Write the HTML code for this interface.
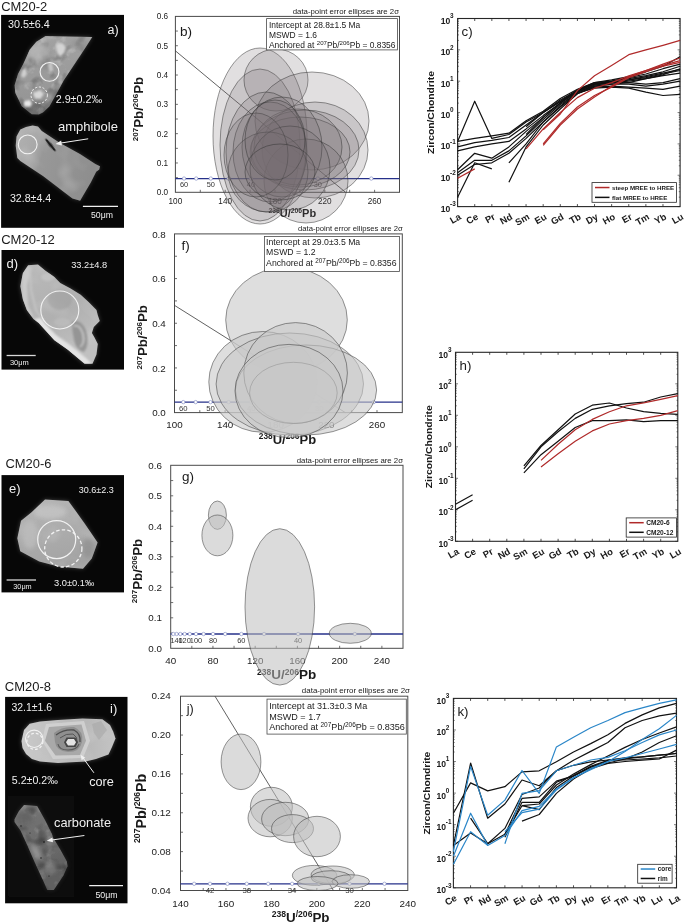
<!DOCTYPE html><html><head><meta charset="utf-8"><style>html,body{margin:0;padding:0;background:#fff;width:685px;height:924px;overflow:hidden}svg{display:block;will-change:transform;filter:blur(0.35px)}</style></head><body>
<svg width="685" height="924" viewBox="0 0 685 924" font-family="Liberation Sans, sans-serif">
<defs>
<filter id="soft" x="-10%" y="-10%" width="120%" height="120%"><feGaussianBlur stdDeviation="0.7"/></filter>
<filter id="soft2" x="-20%" y="-20%" width="140%" height="140%"><feGaussianBlur stdDeviation="1.1"/></filter>
<filter id="blur2" x="-30%" y="-30%" width="160%" height="160%"><feGaussianBlur stdDeviation="2.2"/></filter>
<filter id="blur4" x="-50%" y="-50%" width="200%" height="200%"><feGaussianBlur stdDeviation="4"/></filter>
<filter id="tex" x="0" y="0" width="100%" height="100%">
 <feTurbulence type="fractalNoise" baseFrequency="0.09" numOctaves="2" seed="7" result="n"/>
 <feColorMatrix in="n" type="matrix" values="0 0 0 0 1  0 0 0 0 1  0 0 0 0 1  1.2 0 0 0 -0.55" result="w"/>
 <feComposite in="w" in2="SourceGraphic" operator="in"/>
</filter>
<filter id="nz1" x="0" y="0" width="100%" height="100%">
 <feTurbulence type="fractalNoise" baseFrequency="0.11" numOctaves="3" seed="11" result="n"/>
 <feColorMatrix in="n" type="matrix" values="0 0 0 0 1  0 0 0 0 1  0 0 0 0 1  2.6 0 0 0 -1.35"/>
 <feGaussianBlur stdDeviation="0.5"/>
</filter>
<filter id="nz2" x="0" y="0" width="100%" height="100%">
 <feTurbulence type="fractalNoise" baseFrequency="0.08" numOctaves="2" seed="4" result="n"/>
 <feColorMatrix in="n" type="matrix" values="0 0 0 0 0  0 0 0 0 0  0 0 0 0 0  0 2.2 0 0 -1.1"/>
 <feGaussianBlur stdDeviation="0.6"/>
</filter>
<filter id="nz3" x="0" y="0" width="100%" height="100%">
 <feTurbulence type="fractalNoise" baseFrequency="0.05" numOctaves="2" seed="21" result="n"/>
 <feColorMatrix in="n" type="matrix" values="0 0 0 0 1  0 0 0 0 1  0 0 0 0 1  0 0 1.8 0 -0.85"/>
 <feGaussianBlur stdDeviation="1.2"/>
</filter>
</defs>
<rect width="685" height="924" fill="#fff"/>
<text x="1.20" y="10.70" font-size="13.4" text-anchor="start" fill="#1a1a1a" font-weight="normal"  textLength="46" lengthAdjust="spacingAndGlyphs">CM20-2</text>
<text x="1.20" y="244.00" font-size="13.4" text-anchor="start" fill="#1a1a1a" font-weight="normal"  textLength="53.6" lengthAdjust="spacingAndGlyphs">CM20-12</text>
<text x="5.40" y="468.00" font-size="13.2" text-anchor="start" fill="#1a1a1a" font-weight="normal"  textLength="46" lengthAdjust="spacingAndGlyphs">CM20-6</text>
<text x="4.80" y="691.20" font-size="13.4" text-anchor="start" fill="#1a1a1a" font-weight="normal"  textLength="46.2" lengthAdjust="spacingAndGlyphs">CM20-8</text>
<rect x="1.1" y="14.9" width="122.9" height="212.9" fill="#070707"/>
<rect x="1.5" y="250" width="122.5" height="119.6" fill="#070707"/>
<rect x="1.5" y="475.1" width="122.5" height="117.3" fill="#070707"/>
<rect x="5.1" y="696.9" width="122.4" height="206.4" fill="#070707"/>
<linearGradient id="ga1" x1="0" y1="0" x2="0" y2="1"><stop offset="0" stop-color="#a2a2a2"/><stop offset="0.8" stop-color="#969696"/><stop offset="0.87" stop-color="#777"/><stop offset="1" stop-color="#6e6e6e"/></linearGradient>
<clipPath id="ca1"><polygon points="45.5,36.0 92.3,37.0 80.0,56.0 64.0,80.0 49.4,106.5 43.0,112.5 38.9,114.6 31.7,114.2 21.8,106.2 15.3,93.1 14.6,85.2 18.0,74.0 23.1,64.2 29.7,49.7 36.3,41.8"/></clipPath>
<polygon points="45.5,36.0 92.3,37.0 80.0,56.0 64.0,80.0 49.4,106.5 43.0,112.5 38.9,114.6 31.7,114.2 21.8,106.2 15.3,93.1 14.6,85.2 18.0,74.0 23.1,64.2 29.7,49.7 36.3,41.8" fill="url(#ga1)" opacity="0.35" filter="url(#blur2)"/>
<polygon points="45.5,36.0 92.3,37.0 80.0,56.0 64.0,80.0 49.4,106.5 43.0,112.5 38.9,114.6 31.7,114.2 21.8,106.2 15.3,93.1 14.6,85.2 18.0,74.0 23.1,64.2 29.7,49.7 36.3,41.8" fill="url(#ga1)" filter="url(#soft)"/>
<rect x="12.6" y="34.0" width="81.7" height="82.6" filter="url(#nz1)" clip-path="url(#ca1)" opacity="0.28"/>
<rect x="12.6" y="34.0" width="81.7" height="82.6" filter="url(#nz2)" clip-path="url(#ca1)" opacity="0.35"/>
<g clip-path="url(#ca1)"><g filter="url(#blur2)" opacity="0.8"><ellipse cx="38" cy="52" rx="10" ry="9" fill="#b8b8b8"/><ellipse cx="45" cy="62" rx="3" ry="7" fill="#6e6e6e" opacity="0.7"/><ellipse cx="80" cy="44" rx="8" ry="5" fill="#8a8a8a" opacity="0.6"/></g><g filter="url(#soft2)"><polygon points="56,44 62,43 66,47 64,53 60,57 57,52" fill="#d4d4d4"/><polygon points="22,70 26,68 27,74 24,78 21,76" fill="#d0d0d0"/><polygon points="24,101 30,100 32,104 30,107 24,106" fill="#e8e8e8"/><polygon points="33,93 40,90 44,94 40,99 35,98" fill="#d8d8d8"/><polygon points="48,64 52,62 53,70 50,73" fill="#c8c8c8"/></g></g>
<circle cx="49.5" cy="71.9" r="9.4" fill="none" stroke="#f2f2f2" stroke-width="1.1"/>
<circle cx="39.2" cy="95.2" r="8.2" fill="none" stroke="#f2f2f2" stroke-width="1" stroke-dasharray="2.2 1.6"/>
<text x="7.90" y="28.20" font-size="10.2" text-anchor="start" fill="#f0f0f0" font-weight="normal"  textLength="41.9" lengthAdjust="spacingAndGlyphs">30.5±6.4</text>
<text x="107.50" y="33.70" font-size="12.5" text-anchor="start" fill="#f0f0f0" font-weight="normal" >a)</text>
<text x="55.70" y="103.40" font-size="10.4" text-anchor="start" fill="#f0f0f0" font-weight="normal"  textLength="46.5" lengthAdjust="spacingAndGlyphs">2.9±0.2‰</text>
<linearGradient id="ga2" x1="0" y1="0" x2="1" y2="0.3"><stop offset="0" stop-color="#b2b2b2"/><stop offset="0.3" stop-color="#a8a8a8"/><stop offset="0.4" stop-color="#989898"/><stop offset="1" stop-color="#8e8e8e"/></linearGradient>
<clipPath id="ca2"><polygon points="16.5,136.5 20.3,129.6 26.0,127.0 32.6,125.4 38.0,126.5 41.8,131.1 60.0,143.0 80.0,154.0 95.4,164.0 100.0,166.3 99.3,169.4 96.2,171.7 90.8,182.4 80.1,200.8 72.4,198.5 43.3,176.3 20.3,161.0 17.3,157.9 15.7,145.7"/></clipPath>
<polygon points="16.5,136.5 20.3,129.6 26.0,127.0 32.6,125.4 38.0,126.5 41.8,131.1 60.0,143.0 80.0,154.0 95.4,164.0 100.0,166.3 99.3,169.4 96.2,171.7 90.8,182.4 80.1,200.8 72.4,198.5 43.3,176.3 20.3,161.0 17.3,157.9 15.7,145.7" fill="url(#ga2)" opacity="0.35" filter="url(#blur2)"/>
<polygon points="16.5,136.5 20.3,129.6 26.0,127.0 32.6,125.4 38.0,126.5 41.8,131.1 60.0,143.0 80.0,154.0 95.4,164.0 100.0,166.3 99.3,169.4 96.2,171.7 90.8,182.4 80.1,200.8 72.4,198.5 43.3,176.3 20.3,161.0 17.3,157.9 15.7,145.7" fill="url(#ga2)" filter="url(#soft)"/>
<rect x="13.7" y="123.4" width="88.3" height="79.4" filter="url(#nz3)" clip-path="url(#ca2)" opacity="0.25"/>
<ellipse cx="50.5" cy="145" rx="8.2" ry="1.4" transform="rotate(50.7 50.5 145)" fill="#1a1a1a" filter="url(#soft)"/>
<circle cx="27.7" cy="144.4" r="9.4" fill="none" stroke="#f2f2f2" stroke-width="1.1"/>
<text x="57.90" y="131.30" font-size="12.8" text-anchor="start" fill="#f0f0f0" font-weight="normal"  textLength="60.1" lengthAdjust="spacingAndGlyphs">amphibole</text>
<line x1="88.2" y1="138.8" x2="58.5" y2="143.4" stroke="#f0f0f0" stroke-width="1"/><polygon points="55.5,143.9 61.2,140.6 61.9,145.4" fill="#f0f0f0"/>
<text x="9.90" y="202.00" font-size="10.2" text-anchor="start" fill="#f0f0f0" font-weight="normal"  textLength="41.3" lengthAdjust="spacingAndGlyphs">32.8±4.4</text>
<line x1="82.9" y1="206.4" x2="118" y2="206.4" stroke="#f0f0f0" stroke-width="1.3"/>
<text x="91.00" y="218.20" font-size="8.7" text-anchor="start" fill="#f0f0f0" font-weight="normal"  textLength="21.9" lengthAdjust="spacingAndGlyphs">50μm</text>
<linearGradient id="gd" x1="0" y1="0" x2="0.4" y2="1"><stop offset="0" stop-color="#bababa"/><stop offset="0.6" stop-color="#b0b0b0"/><stop offset="1" stop-color="#c0c0c0"/></linearGradient>
<clipPath id="cd"><polygon points="28.1,265.3 38.0,264.6 45.2,270.5 54.4,277.1 60.3,283.0 70.2,288.3 80.7,294.8 88.6,302.0 96.5,310.0 97.8,315.2 99.8,321.1 93.8,327.0 91.9,333.0 94.5,337.5 97.8,344.1 96.5,354.6 92.5,363.8 84.6,363.8 67.6,349.4 54.4,340.2 38.7,323.1 33.4,319.1 26.8,310.0 22.9,299.4 20.3,286.3 22.9,273.1"/></clipPath>
<polygon points="28.1,265.3 38.0,264.6 45.2,270.5 54.4,277.1 60.3,283.0 70.2,288.3 80.7,294.8 88.6,302.0 96.5,310.0 97.8,315.2 99.8,321.1 93.8,327.0 91.9,333.0 94.5,337.5 97.8,344.1 96.5,354.6 92.5,363.8 84.6,363.8 67.6,349.4 54.4,340.2 38.7,323.1 33.4,319.1 26.8,310.0 22.9,299.4 20.3,286.3 22.9,273.1" fill="url(#gd)" opacity="0.35" filter="url(#blur2)"/>
<polygon points="28.1,265.3 38.0,264.6 45.2,270.5 54.4,277.1 60.3,283.0 70.2,288.3 80.7,294.8 88.6,302.0 96.5,310.0 97.8,315.2 99.8,321.1 93.8,327.0 91.9,333.0 94.5,337.5 97.8,344.1 96.5,354.6 92.5,363.8 84.6,363.8 67.6,349.4 54.4,340.2 38.7,323.1 33.4,319.1 26.8,310.0 22.9,299.4 20.3,286.3 22.9,273.1" fill="url(#gd)" filter="url(#soft)"/>
<rect x="18.3" y="262.6" width="83.5" height="103.2" filter="url(#nz3)" clip-path="url(#cd)" opacity="0.2"/>
<g clip-path="url(#cd)"><g filter="url(#soft2)"><polygon points="22,275 28,266 32,268 27,285 28,305 34,318 28,314 22,300" fill="#cfcfcf" opacity="0.8"/><polyline points="30,268 31,290 36,310 44,322" fill="none" stroke="#c4c4c4" stroke-width="2"/><polygon points="34,319 40,318 56,335 70,345 86,358 92,364 84,364 66,350 52,340 38,324" fill="#e4e4e4"/><path d="M72,322 Q80,318 86,330 Q90,345 84,352 Q76,350 74,340 Q72,330 72,322Z" fill="#8c8c8c" opacity="0.8"/><path d="M74,326 Q80,324 83,334 Q85,344 80,347" fill="none" stroke="#d0d0d0" stroke-width="1.4"/><ellipse cx="48" cy="277" rx="7" ry="4" fill="#c8c8c8" opacity="0.7"/><ellipse cx="62" cy="322" rx="8" ry="4" fill="#c0c0c0" opacity="0.6"/><ellipse cx="60" cy="300" rx="12" ry="10" fill="#9c9c9c" opacity="0.5"/></g></g>
<circle cx="59.8" cy="310" r="19" fill="none" stroke="#f2f2f2" stroke-width="1.1"/>
<text x="6.60" y="268.30" font-size="13" text-anchor="start" fill="#f0f0f0" font-weight="normal" >d)</text>
<text x="71.20" y="268.30" font-size="9.3" text-anchor="start" fill="#f0f0f0" font-weight="normal"  textLength="36" lengthAdjust="spacingAndGlyphs">33.2±4.8</text>
<line x1="6.6" y1="355.5" x2="35.7" y2="355.5" stroke="#d8d8d8" stroke-width="1.3"/>
<text x="9.90" y="365.00" font-size="7.5" text-anchor="start" fill="#f0f0f0" font-weight="normal"  textLength="18.9" lengthAdjust="spacingAndGlyphs">30μm</text>
<linearGradient id="ge" x1="0" y1="0" x2="0.3" y2="1"><stop offset="0" stop-color="#b6b6b6"/><stop offset="0.5" stop-color="#adadad"/><stop offset="1" stop-color="#a4a4a4"/></linearGradient>
<clipPath id="ce"><polygon points="45.0,499.5 68.4,501.0 75.0,510.0 85.0,524.0 97.6,542.6 91.8,558.6 83.0,568.8 58.2,566.6 39.2,561.5 20.2,551.3 17.3,538.2 21.0,520.7 31.9,511.9"/></clipPath>
<polygon points="45.0,499.5 68.4,501.0 75.0,510.0 85.0,524.0 97.6,542.6 91.8,558.6 83.0,568.8 58.2,566.6 39.2,561.5 20.2,551.3 17.3,538.2 21.0,520.7 31.9,511.9" fill="url(#ge)" opacity="0.35" filter="url(#blur2)"/>
<polygon points="45.0,499.5 68.4,501.0 75.0,510.0 85.0,524.0 97.6,542.6 91.8,558.6 83.0,568.8 58.2,566.6 39.2,561.5 20.2,551.3 17.3,538.2 21.0,520.7 31.9,511.9" fill="url(#ge)" filter="url(#soft)"/>
<rect x="15.3" y="497.5" width="84.3" height="73.3" filter="url(#nz3)" clip-path="url(#ce)" opacity="0.2"/>
<g clip-path="url(#ce)"><g filter="url(#blur2)" opacity="0.7"><ellipse cx="50" cy="512" rx="16" ry="7" fill="#c8c8c8"/><ellipse cx="30" cy="535" rx="8" ry="14" fill="#bfbfbf"/><ellipse cx="88" cy="548" rx="6" ry="10" fill="#8e8e8e"/><ellipse cx="75" cy="563" rx="10" ry="4" fill="#a0a0a0"/></g></g>
<circle cx="56.7" cy="539.6" r="19" fill="none" stroke="#f2f2f2" stroke-width="1.2"/>
<circle cx="63.3" cy="548.4" r="18.6" fill="none" stroke="#f2f2f2" stroke-width="1.3" stroke-dasharray="3.5 2.2"/>
<text x="9.10" y="493.10" font-size="13" text-anchor="start" fill="#f0f0f0" font-weight="normal" >e)</text>
<text x="78.70" y="493.10" font-size="9" text-anchor="start" fill="#f0f0f0" font-weight="normal"  textLength="35.1" lengthAdjust="spacingAndGlyphs">30.6±2.3</text>
<text x="54.00" y="586.00" font-size="9.3" text-anchor="start" fill="#f0f0f0" font-weight="normal"  textLength="40.3" lengthAdjust="spacingAndGlyphs">3.0±0.1‰</text>
<line x1="6.6" y1="580" x2="36" y2="580" stroke="#d8d8d8" stroke-width="1.3"/>
<text x="13.30" y="589.00" font-size="7.3" text-anchor="start" fill="#f0f0f0" font-weight="normal"  textLength="18.4" lengthAdjust="spacingAndGlyphs">30μm</text>
<linearGradient id="gi" x1="0" y1="0" x2="1" y2="0"><stop offset="0" stop-color="#cacaca"/><stop offset="0.3" stop-color="#c0c0c0"/><stop offset="0.7" stop-color="#b8b8b8"/><stop offset="1" stop-color="#c4c4c4"/></linearGradient>
<clipPath id="ci"><polygon points="21.5,741.0 24.0,730.0 29.6,723.8 40.0,721.5 57.9,720.0 82.5,718.4 102.4,719.2 110.0,725.0 113.2,731.5 115.5,738.4 112.0,747.0 108.5,754.5 96.0,759.0 85.6,761.4 57.9,762.9 40.0,761.5 31.9,759.1 26.0,754.0 22.5,748.0"/></clipPath>
<polygon points="21.5,741.0 24.0,730.0 29.6,723.8 40.0,721.5 57.9,720.0 82.5,718.4 102.4,719.2 110.0,725.0 113.2,731.5 115.5,738.4 112.0,747.0 108.5,754.5 96.0,759.0 85.6,761.4 57.9,762.9 40.0,761.5 31.9,759.1 26.0,754.0 22.5,748.0" fill="url(#gi)" opacity="0.35" filter="url(#blur2)"/>
<polygon points="21.5,741.0 24.0,730.0 29.6,723.8 40.0,721.5 57.9,720.0 82.5,718.4 102.4,719.2 110.0,725.0 113.2,731.5 115.5,738.4 112.0,747.0 108.5,754.5 96.0,759.0 85.6,761.4 57.9,762.9 40.0,761.5 31.9,759.1 26.0,754.0 22.5,748.0" fill="url(#gi)" filter="url(#soft)"/>
<rect x="19.5" y="716.4" width="98.0" height="48.5" filter="url(#nz3)" clip-path="url(#ci)" opacity="0.2"/>
<g clip-path="url(#ci)"><g filter="url(#soft)"><polygon points="46,724 84,721 90,740.7 83,758 53,759 42,740.7" fill="#d2d2d2" opacity="0.9"/><polygon points="49,727 81.5,724.5 86,740.7 80,755 55.5,755.5 45,740.7" fill="#a9a9a9"/><path d="M54,733 Q62,726 74,727 Q84,731 82,742 Q80,752 68,752 Q56,751 55,742Z" fill="#8f8f8f"/><path d="M56,735 Q64,729 74,730 Q81,734 80,742" fill="none" stroke="#4e4e4e" stroke-width="1.3"/><path d="M58,744 Q59,750 68,750 Q77,750 79,744" fill="none" stroke="#5a5a5a" stroke-width="1.1"/><path d="M60,738 Q66,733 73,734 Q78,737 77,742" fill="none" stroke="#555" stroke-width="1"/><polygon points="66.5,737.5 75.5,737.5 78,742.2 75.5,747 66.5,747 64,742.2" fill="#444"/><polygon points="68,739 74,739 76,742.2 74,745.5 68,745.5 66,742.2" fill="#e4e4e4"/><polygon points="92,724 101,721 107,730 99,740 94,733" fill="#a4a4a4" opacity="0.5"/></g></g>
<circle cx="34.2" cy="738.8" r="8.7" fill="none" stroke="#f2f2f2" stroke-width="1.1"/>
<circle cx="34.9" cy="741.4" r="8" fill="none" stroke="#f2f2f2" stroke-width="1.2" stroke-dasharray="2.8 2"/>
<text x="11.40" y="711.20" font-size="10.3" text-anchor="start" fill="#f0f0f0" font-weight="normal"  textLength="40.8" lengthAdjust="spacingAndGlyphs">32.1±1.6</text>
<text x="110.00" y="713.00" font-size="13" text-anchor="start" fill="#f0f0f0" font-weight="normal" >i)</text>
<line x1="93.9" y1="772.8" x2="82" y2="756.5" stroke="#f0f0f0" stroke-width="1"/><polygon points="80.6,754.8 85.3,757.7 81.6,760.3" fill="#f0f0f0"/>
<text x="11.80" y="783.70" font-size="10.4" text-anchor="start" fill="#f0f0f0" font-weight="normal"  textLength="46.1" lengthAdjust="spacingAndGlyphs">5.2±0.2‰</text>
<text x="89.20" y="785.60" font-size="12.7" text-anchor="start" fill="#f0f0f0" font-weight="normal"  textLength="24.7" lengthAdjust="spacingAndGlyphs">core</text>
<rect x="8.5" y="796" width="65.5" height="100.6" fill="#0e0e0e" filter="url(#soft)"/>
<linearGradient id="gc" x1="0" y1="0" x2="0.3" y2="1"><stop offset="0" stop-color="#8a8a8a"/><stop offset="0.15" stop-color="#737373"/><stop offset="0.6" stop-color="#6a6a6a"/><stop offset="1" stop-color="#606060"/></linearGradient>
<clipPath id="cc"><polygon points="14.5,819.2 19.0,811.0 24.0,804.9 37.1,806.1 45.0,820.0 52.0,834.0 53.0,837.5 60.0,849.0 66.9,861.4 67.5,866.2 63.3,875.7 53.8,890.0 47.3,890.0 43.1,880.5 35.0,863.0 27.6,846.0 20.5,830.5 14.5,822.0"/></clipPath>
<polygon points="14.5,819.2 19.0,811.0 24.0,804.9 37.1,806.1 45.0,820.0 52.0,834.0 53.0,837.5 60.0,849.0 66.9,861.4 67.5,866.2 63.3,875.7 53.8,890.0 47.3,890.0 43.1,880.5 35.0,863.0 27.6,846.0 20.5,830.5 14.5,822.0" fill="url(#gc)" opacity="0.35" filter="url(#blur2)"/>
<polygon points="14.5,819.2 19.0,811.0 24.0,804.9 37.1,806.1 45.0,820.0 52.0,834.0 53.0,837.5 60.0,849.0 66.9,861.4 67.5,866.2 63.3,875.7 53.8,890.0 47.3,890.0 43.1,880.5 35.0,863.0 27.6,846.0 20.5,830.5 14.5,822.0" fill="url(#gc)" filter="url(#soft)"/>
<rect x="12.5" y="802.9" width="57.0" height="89.1" filter="url(#nz1)" clip-path="url(#cc)" opacity="0.18"/>
<rect x="12.5" y="802.9" width="57.0" height="89.1" filter="url(#nz2)" clip-path="url(#cc)" opacity="0.4"/>
<g clip-path="url(#cc)"><g filter="url(#blur2)" opacity="0.7"><ellipse cx="36" cy="852" rx="3.5" ry="9" fill="#a8a8a8" transform="rotate(-25 36 852)"/><ellipse cx="24" cy="818" rx="8" ry="7" fill="#5e5e5e"/><ellipse cx="50" cy="868" rx="6" ry="6" fill="#8a8a8a"/></g><g fill="#111"><circle cx="21" cy="826" r="0.7"/><circle cx="44" cy="842" r="0.8"/><circle cx="41" cy="858" r="0.7"/><circle cx="49" cy="876" r="0.6"/><circle cx="30" cy="833" r="0.5"/></g></g>
<text x="54.10" y="827.40" font-size="12.8" text-anchor="start" fill="#f0f0f0" font-weight="normal"  textLength="56.9" lengthAdjust="spacingAndGlyphs">carbonate</text>
<line x1="84.4" y1="835.5" x2="49.5" y2="840.3" stroke="#f0f0f0" stroke-width="1"/><polygon points="46.8,840.7 52.4,837.6 53,842.3" fill="#f0f0f0"/>
<line x1="89.2" y1="885.6" x2="123" y2="885.6" stroke="#f0f0f0" stroke-width="1.3"/>
<text x="95.40" y="897.60" font-size="8.8" text-anchor="start" fill="#f0f0f0" font-weight="normal"  textLength="22.2" lengthAdjust="spacingAndGlyphs">50μm</text>
<rect x="175.4" y="16.4" width="224.1" height="175.9" fill="#fff" stroke="#4a4a4a" stroke-width="1"/>
<line x1="200.30" y1="192.3" x2="200.30" y2="189.8" stroke="#4a4a4a" stroke-width="0.8"/>
<line x1="225.20" y1="192.3" x2="225.20" y2="189.8" stroke="#4a4a4a" stroke-width="0.8"/>
<line x1="250.10" y1="192.3" x2="250.10" y2="189.8" stroke="#4a4a4a" stroke-width="0.8"/>
<line x1="275.00" y1="192.3" x2="275.00" y2="189.8" stroke="#4a4a4a" stroke-width="0.8"/>
<line x1="299.90" y1="192.3" x2="299.90" y2="189.8" stroke="#4a4a4a" stroke-width="0.8"/>
<line x1="324.80" y1="192.3" x2="324.80" y2="189.8" stroke="#4a4a4a" stroke-width="0.8"/>
<line x1="349.70" y1="192.3" x2="349.70" y2="189.8" stroke="#4a4a4a" stroke-width="0.8"/>
<line x1="374.60" y1="192.3" x2="374.60" y2="189.8" stroke="#4a4a4a" stroke-width="0.8"/>
<line x1="175.4" y1="177.64" x2="177.9" y2="177.64" stroke="#4a4a4a" stroke-width="0.8"/>
<line x1="175.4" y1="162.98" x2="177.9" y2="162.98" stroke="#4a4a4a" stroke-width="0.8"/>
<line x1="175.4" y1="148.33" x2="177.9" y2="148.33" stroke="#4a4a4a" stroke-width="0.8"/>
<line x1="175.4" y1="133.67" x2="177.9" y2="133.67" stroke="#4a4a4a" stroke-width="0.8"/>
<line x1="175.4" y1="119.01" x2="177.9" y2="119.01" stroke="#4a4a4a" stroke-width="0.8"/>
<line x1="175.4" y1="104.35" x2="177.9" y2="104.35" stroke="#4a4a4a" stroke-width="0.8"/>
<line x1="175.4" y1="89.69" x2="177.9" y2="89.69" stroke="#4a4a4a" stroke-width="0.8"/>
<line x1="175.4" y1="75.03" x2="177.9" y2="75.03" stroke="#4a4a4a" stroke-width="0.8"/>
<line x1="175.4" y1="60.38" x2="177.9" y2="60.38" stroke="#4a4a4a" stroke-width="0.8"/>
<line x1="175.4" y1="45.72" x2="177.9" y2="45.72" stroke="#4a4a4a" stroke-width="0.8"/>
<line x1="175.4" y1="31.06" x2="177.9" y2="31.06" stroke="#4a4a4a" stroke-width="0.8"/>
<text x="175.40" y="204.40" font-size="8.2" text-anchor="middle" fill="#1a1a1a" font-weight="normal" >100</text>
<text x="225.20" y="204.40" font-size="8.2" text-anchor="middle" fill="#1a1a1a" font-weight="normal" >140</text>
<text x="275.00" y="204.40" font-size="8.2" text-anchor="middle" fill="#1a1a1a" font-weight="normal" >180</text>
<text x="324.80" y="204.40" font-size="8.2" text-anchor="middle" fill="#1a1a1a" font-weight="normal" >220</text>
<text x="374.60" y="204.40" font-size="8.2" text-anchor="middle" fill="#1a1a1a" font-weight="normal" >260</text>
<text x="168.10" y="195.20" font-size="8.2" text-anchor="end" fill="#1a1a1a" font-weight="normal" >0.0</text>
<text x="168.10" y="165.88" font-size="8.2" text-anchor="end" fill="#1a1a1a" font-weight="normal" >0.1</text>
<text x="168.10" y="136.57" font-size="8.2" text-anchor="end" fill="#1a1a1a" font-weight="normal" >0.2</text>
<text x="168.10" y="107.25" font-size="8.2" text-anchor="end" fill="#1a1a1a" font-weight="normal" >0.3</text>
<text x="168.10" y="77.93" font-size="8.2" text-anchor="end" fill="#1a1a1a" font-weight="normal" >0.4</text>
<text x="168.10" y="48.62" font-size="8.2" text-anchor="end" fill="#1a1a1a" font-weight="normal" >0.5</text>
<text x="168.10" y="19.30" font-size="8.2" text-anchor="end" fill="#1a1a1a" font-weight="normal" >0.6</text>
<text transform="translate(143.2 109) rotate(-90)" font-size="13.3" font-weight="bold" text-anchor="middle" fill="#1a1a1a"><tspan font-size="8.0" dy="-4.8">207</tspan><tspan dy="4.8">Pb/</tspan><tspan font-size="8.0" dy="-4.8">206</tspan><tspan dy="4.8">Pb</tspan></text>
<text x="268.4" y="217.2" font-size="11" font-weight="bold" text-anchor="start" fill="#1a1a1a"><tspan font-size="6.8" dy="-4">238</tspan><tspan dy="4">U/</tspan><tspan font-size="6.8" dy="-4">206</tspan><tspan dy="4">Pb</tspan></text>
<line x1="175.40" y1="50.85" x2="345.52" y2="192.30" stroke="#3a3a3a" stroke-width="0.8"/>
<line x1="175.4" y1="178.55" x2="399.5" y2="178.55" stroke="#26318a" stroke-width="1.35"/>
<circle cx="371.31" cy="178.55" r="1.7" fill="#fff" stroke="#7a84c0" stroke-width="0.6"/>
<circle cx="317.80" cy="178.55" r="1.7" fill="#fff" stroke="#7a84c0" stroke-width="0.6"/>
<circle cx="279.59" cy="178.55" r="1.7" fill="#fff" stroke="#7a84c0" stroke-width="0.6"/>
<circle cx="250.92" cy="178.55" r="1.7" fill="#fff" stroke="#7a84c0" stroke-width="0.6"/>
<circle cx="228.63" cy="178.55" r="1.7" fill="#fff" stroke="#7a84c0" stroke-width="0.6"/>
<circle cx="210.79" cy="178.55" r="1.7" fill="#fff" stroke="#7a84c0" stroke-width="0.6"/>
<circle cx="196.20" cy="178.55" r="1.7" fill="#fff" stroke="#7a84c0" stroke-width="0.6"/>
<circle cx="184.04" cy="178.55" r="1.7" fill="#fff" stroke="#7a84c0" stroke-width="0.6"/>
<text x="184.04" y="187.05" font-size="7.4" text-anchor="middle" fill="#333" font-weight="normal" >60</text>
<text x="210.79" y="187.05" font-size="7.4" text-anchor="middle" fill="#333" font-weight="normal" >50</text>
<text x="250.92" y="187.05" font-size="7.4" text-anchor="middle" fill="#333" font-weight="normal" >40</text>
<text x="317.80" y="187.05" font-size="7.4" text-anchor="middle" fill="#333" font-weight="normal" >30</text>
<ellipse cx="260.0" cy="136.0" rx="47.0" ry="88.0" transform="rotate(0 260.0 136.0)" fill="rgba(118,110,112,0.22)" stroke="#333" stroke-width="0.6" stroke-opacity="0.85"/>
<ellipse cx="260.0" cy="145.0" rx="40.0" ry="76.0" transform="rotate(0 260.0 145.0)" fill="rgba(118,110,112,0.22)" stroke="#333" stroke-width="0.6" stroke-opacity="0.85"/>
<ellipse cx="276.0" cy="80.0" rx="32.0" ry="31.0" transform="rotate(0 276.0 80.0)" fill="rgba(118,110,112,0.22)" stroke="#333" stroke-width="0.6" stroke-opacity="0.85"/>
<ellipse cx="312.0" cy="121.0" rx="57.0" ry="49.0" transform="rotate(0 312.0 121.0)" fill="rgba(118,110,112,0.22)" stroke="#333" stroke-width="0.6" stroke-opacity="0.85"/>
<ellipse cx="315.0" cy="150.0" rx="53.0" ry="48.0" transform="rotate(0 315.0 150.0)" fill="rgba(118,110,112,0.22)" stroke="#333" stroke-width="0.6" stroke-opacity="0.85"/>
<ellipse cx="305.0" cy="150.0" rx="54.0" ry="40.0" transform="rotate(0 305.0 150.0)" fill="rgba(118,110,112,0.22)" stroke="#333" stroke-width="0.6" stroke-opacity="0.85"/>
<ellipse cx="300.0" cy="152.0" rx="50.0" ry="35.0" transform="rotate(0 300.0 152.0)" fill="rgba(118,110,112,0.22)" stroke="#333" stroke-width="0.6" stroke-opacity="0.85"/>
<ellipse cx="298.0" cy="147.0" rx="44.0" ry="38.0" transform="rotate(0 298.0 147.0)" fill="rgba(118,110,112,0.22)" stroke="#333" stroke-width="0.6" stroke-opacity="0.85"/>
<ellipse cx="306.0" cy="181.0" rx="42.0" ry="42.0" transform="rotate(0 306.0 181.0)" fill="rgba(118,110,112,0.22)" stroke="#333" stroke-width="0.6" stroke-opacity="0.85"/>
<ellipse cx="266.0" cy="152.0" rx="40.0" ry="60.0" transform="rotate(0 266.0 152.0)" fill="rgba(118,110,112,0.22)" stroke="#333" stroke-width="0.6" stroke-opacity="0.85"/>
<ellipse cx="270.0" cy="152.0" rx="37.0" ry="50.0" transform="rotate(0 270.0 152.0)" fill="rgba(118,110,112,0.22)" stroke="#333" stroke-width="0.6" stroke-opacity="0.85"/>
<ellipse cx="282.0" cy="147.0" rx="40.0" ry="50.0" transform="rotate(0 282.0 147.0)" fill="rgba(118,110,112,0.22)" stroke="#333" stroke-width="0.6" stroke-opacity="0.85"/>
<ellipse cx="268.0" cy="172.0" rx="40.0" ry="40.0" transform="rotate(0 268.0 172.0)" fill="rgba(118,110,112,0.22)" stroke="#333" stroke-width="0.6" stroke-opacity="0.85"/>
<ellipse cx="290.0" cy="168.0" rx="40.0" ry="42.0" transform="rotate(0 290.0 168.0)" fill="rgba(118,110,112,0.22)" stroke="#333" stroke-width="0.6" stroke-opacity="0.85"/>
<ellipse cx="256.0" cy="155.0" rx="32.0" ry="42.0" transform="rotate(0 256.0 155.0)" fill="rgba(118,110,112,0.22)" stroke="#333" stroke-width="0.6" stroke-opacity="0.85"/>
<ellipse cx="275.0" cy="140.0" rx="30.0" ry="40.0" transform="rotate(0 275.0 140.0)" fill="rgba(118,110,112,0.22)" stroke="#333" stroke-width="0.6" stroke-opacity="0.85"/>
<ellipse cx="280.0" cy="172.0" rx="35.0" ry="28.0" transform="rotate(0 280.0 172.0)" fill="rgba(118,110,112,0.22)" stroke="#333" stroke-width="0.6" stroke-opacity="0.85"/>
<text x="180.00" y="35.70" font-size="13.6" text-anchor="start" fill="#1a1a1a" font-weight="normal" >b)</text>
<rect x="266.6" y="18.6" width="130.9" height="31.3" fill="#fff" stroke="#4a4a4a" stroke-width="0.8"/>
<text x="268.90" y="28.00" font-size="8.45" text-anchor="start" fill="#1a1a1a" font-weight="normal" >Intercept at 28.8±1.5 Ma</text>
<text x="268.90" y="37.80" font-size="8.45" text-anchor="start" fill="#1a1a1a" font-weight="normal" >MSWD = 1.6</text>
<text x="268.90" y="47.60" font-size="8.45" text-anchor="start" fill="#1a1a1a" font-weight="normal" >Anchored at <tspan font-size="6.1" dy="-3">207</tspan><tspan dy="3">Pb/</tspan><tspan font-size="6.1" dy="-3">206</tspan><tspan dy="3">Pb = 0.8356</tspan></text>
<text x="399.00" y="13.60" font-size="7.8" text-anchor="end" fill="#1a1a1a" font-weight="normal" >data-point error ellipses are 2σ</text>
<rect x="174.5" y="233.9" width="227.8" height="178.70000000000002" fill="#fff" stroke="#4a4a4a" stroke-width="1"/>
<line x1="199.81" y1="412.6" x2="199.81" y2="410.1" stroke="#4a4a4a" stroke-width="0.8"/>
<line x1="225.12" y1="412.6" x2="225.12" y2="410.1" stroke="#4a4a4a" stroke-width="0.8"/>
<line x1="250.43" y1="412.6" x2="250.43" y2="410.1" stroke="#4a4a4a" stroke-width="0.8"/>
<line x1="275.74" y1="412.6" x2="275.74" y2="410.1" stroke="#4a4a4a" stroke-width="0.8"/>
<line x1="301.06" y1="412.6" x2="301.06" y2="410.1" stroke="#4a4a4a" stroke-width="0.8"/>
<line x1="326.37" y1="412.6" x2="326.37" y2="410.1" stroke="#4a4a4a" stroke-width="0.8"/>
<line x1="351.68" y1="412.6" x2="351.68" y2="410.1" stroke="#4a4a4a" stroke-width="0.8"/>
<line x1="376.99" y1="412.6" x2="376.99" y2="410.1" stroke="#4a4a4a" stroke-width="0.8"/>
<line x1="174.5" y1="390.26" x2="177.0" y2="390.26" stroke="#4a4a4a" stroke-width="0.8"/>
<line x1="174.5" y1="367.93" x2="177.0" y2="367.93" stroke="#4a4a4a" stroke-width="0.8"/>
<line x1="174.5" y1="345.59" x2="177.0" y2="345.59" stroke="#4a4a4a" stroke-width="0.8"/>
<line x1="174.5" y1="323.25" x2="177.0" y2="323.25" stroke="#4a4a4a" stroke-width="0.8"/>
<line x1="174.5" y1="300.91" x2="177.0" y2="300.91" stroke="#4a4a4a" stroke-width="0.8"/>
<line x1="174.5" y1="278.58" x2="177.0" y2="278.58" stroke="#4a4a4a" stroke-width="0.8"/>
<line x1="174.5" y1="256.24" x2="177.0" y2="256.24" stroke="#4a4a4a" stroke-width="0.8"/>
<text x="174.50" y="428.30" font-size="9.8" text-anchor="middle" fill="#1a1a1a" font-weight="normal" >100</text>
<text x="225.12" y="428.30" font-size="9.8" text-anchor="middle" fill="#1a1a1a" font-weight="normal" >140</text>
<text x="275.74" y="428.30" font-size="9.8" text-anchor="middle" fill="#1a1a1a" font-weight="normal" >180</text>
<text x="326.37" y="428.30" font-size="9.8" text-anchor="middle" fill="#1a1a1a" font-weight="normal" >220</text>
<text x="376.99" y="428.30" font-size="9.8" text-anchor="middle" fill="#1a1a1a" font-weight="normal" >260</text>
<text x="165.80" y="416.40" font-size="9.8" text-anchor="end" fill="#1a1a1a" font-weight="normal" >0.0</text>
<text x="165.80" y="371.73" font-size="9.8" text-anchor="end" fill="#1a1a1a" font-weight="normal" >0.2</text>
<text x="165.80" y="327.05" font-size="9.8" text-anchor="end" fill="#1a1a1a" font-weight="normal" >0.4</text>
<text x="165.80" y="282.38" font-size="9.8" text-anchor="end" fill="#1a1a1a" font-weight="normal" >0.6</text>
<text x="165.80" y="237.70" font-size="9.8" text-anchor="end" fill="#1a1a1a" font-weight="normal" >0.8</text>
<text transform="translate(146.6 337.2) rotate(-90)" font-size="13.3" font-weight="bold" text-anchor="middle" fill="#1a1a1a"><tspan font-size="8.0" dy="-4.8">207</tspan><tspan dy="4.8">Pb/</tspan><tspan font-size="8.0" dy="-4.8">206</tspan><tspan dy="4.8">Pb</tspan></text>
<text x="258.8" y="444" font-size="13" font-weight="bold" text-anchor="start" fill="#1a1a1a"><tspan font-size="8.3" dy="-4.7">238</tspan><tspan dy="4.7">U/</tspan><tspan font-size="8.3" dy="-4.7">206</tspan><tspan dy="4.7">Pb</tspan></text>
<line x1="174.50" y1="305.37" x2="345.36" y2="412.60" stroke="#3a3a3a" stroke-width="0.8"/>
<line x1="174.5" y1="402.12" x2="402.3" y2="402.12" stroke="#26318a" stroke-width="1.35"/>
<circle cx="373.64" cy="402.12" r="1.7" fill="#fff" stroke="#7a84c0" stroke-width="0.6"/>
<circle cx="319.26" cy="402.12" r="1.7" fill="#fff" stroke="#7a84c0" stroke-width="0.6"/>
<circle cx="280.41" cy="402.12" r="1.7" fill="#fff" stroke="#7a84c0" stroke-width="0.6"/>
<circle cx="251.27" cy="402.12" r="1.7" fill="#fff" stroke="#7a84c0" stroke-width="0.6"/>
<circle cx="228.61" cy="402.12" r="1.7" fill="#fff" stroke="#7a84c0" stroke-width="0.6"/>
<circle cx="210.48" cy="402.12" r="1.7" fill="#fff" stroke="#7a84c0" stroke-width="0.6"/>
<circle cx="195.65" cy="402.12" r="1.7" fill="#fff" stroke="#7a84c0" stroke-width="0.6"/>
<circle cx="183.28" cy="402.12" r="1.7" fill="#fff" stroke="#7a84c0" stroke-width="0.6"/>
<text x="183.28" y="411.02" font-size="7.7" text-anchor="middle" fill="#333" font-weight="normal" >60</text>
<text x="210.48" y="411.02" font-size="7.7" text-anchor="middle" fill="#333" font-weight="normal" >50</text>
<text x="251.27" y="411.02" font-size="7.7" text-anchor="middle" fill="#333" font-weight="normal" >40</text>
<text x="319.26" y="411.02" font-size="7.7" text-anchor="middle" fill="#333" font-weight="normal" >30</text>
<ellipse cx="286.5" cy="319.9" rx="60.8" ry="52.6" transform="rotate(0 286.5 319.9)" fill="rgba(200,200,200,0.6)" stroke="#333" stroke-width="0.6" stroke-opacity="0.85"/>
<ellipse cx="262.8" cy="381.9" rx="54.0" ry="50.4" transform="rotate(0 262.8 381.9)" fill="rgba(200,200,200,0.6)" stroke="#333" stroke-width="0.6" stroke-opacity="0.85"/>
<ellipse cx="289.8" cy="384.0" rx="73.7" ry="51.0" transform="rotate(0 289.8 384.0)" fill="rgba(200,200,200,0.6)" stroke="#333" stroke-width="0.6" stroke-opacity="0.85"/>
<ellipse cx="306.0" cy="390.0" rx="70.6" ry="45.0" transform="rotate(0 306.0 390.0)" fill="rgba(200,200,200,0.6)" stroke="#333" stroke-width="0.6" stroke-opacity="0.85"/>
<ellipse cx="295.6" cy="373.0" rx="51.8" ry="50.4" transform="rotate(0 295.6 373.0)" fill="rgba(200,200,200,0.6)" stroke="#333" stroke-width="0.6" stroke-opacity="0.85"/>
<ellipse cx="293.4" cy="392.9" rx="43.8" ry="30.6" transform="rotate(0 293.4 392.9)" fill="rgba(200,200,200,0.6)" stroke="#333" stroke-width="0.6" stroke-opacity="0.85"/>
<ellipse cx="289.0" cy="391.0" rx="54.0" ry="46.6" transform="rotate(0 289.0 391.0)" fill="rgba(200,200,200,0.6)" stroke="#333" stroke-width="0.6" stroke-opacity="0.85"/>
<text x="181.40" y="249.50" font-size="13.5" text-anchor="start" fill="#1a1a1a" font-weight="normal" >f)</text>
<rect x="264.4" y="236.4" width="135.1" height="35.1" fill="#fff" stroke="#4a4a4a" stroke-width="0.8"/>
<text x="266.10" y="245.20" font-size="8.7" text-anchor="start" fill="#1a1a1a" font-weight="normal" >Intercept at 29.0±3.5 Ma</text>
<text x="266.10" y="255.40" font-size="8.7" text-anchor="start" fill="#1a1a1a" font-weight="normal" >MSWD = 1.2</text>
<text x="266.10" y="265.60" font-size="8.7" text-anchor="start" fill="#1a1a1a" font-weight="normal" >Anchored at <tspan font-size="6.3" dy="-3">207</tspan><tspan dy="3">Pb/</tspan><tspan font-size="6.3" dy="-3">206</tspan><tspan dy="3">Pb = 0.8356</tspan></text>
<text x="402.80" y="231.00" font-size="7.7" text-anchor="end" fill="#1a1a1a" font-weight="normal" >data-point error ellipses are 2σ</text>
<rect x="170.7" y="465.3" width="232.3" height="182.99999999999994" fill="#fff" stroke="#4a4a4a" stroke-width="1"/>
<line x1="191.82" y1="648.3" x2="191.82" y2="645.8" stroke="#4a4a4a" stroke-width="0.8"/>
<line x1="212.94" y1="648.3" x2="212.94" y2="645.8" stroke="#4a4a4a" stroke-width="0.8"/>
<line x1="234.05" y1="648.3" x2="234.05" y2="645.8" stroke="#4a4a4a" stroke-width="0.8"/>
<line x1="255.17" y1="648.3" x2="255.17" y2="645.8" stroke="#4a4a4a" stroke-width="0.8"/>
<line x1="276.29" y1="648.3" x2="276.29" y2="645.8" stroke="#4a4a4a" stroke-width="0.8"/>
<line x1="297.41" y1="648.3" x2="297.41" y2="645.8" stroke="#4a4a4a" stroke-width="0.8"/>
<line x1="318.53" y1="648.3" x2="318.53" y2="645.8" stroke="#4a4a4a" stroke-width="0.8"/>
<line x1="339.65" y1="648.3" x2="339.65" y2="645.8" stroke="#4a4a4a" stroke-width="0.8"/>
<line x1="360.76" y1="648.3" x2="360.76" y2="645.8" stroke="#4a4a4a" stroke-width="0.8"/>
<line x1="381.88" y1="648.3" x2="381.88" y2="645.8" stroke="#4a4a4a" stroke-width="0.8"/>
<line x1="170.7" y1="633.05" x2="173.2" y2="633.05" stroke="#4a4a4a" stroke-width="0.8"/>
<line x1="170.7" y1="617.80" x2="173.2" y2="617.80" stroke="#4a4a4a" stroke-width="0.8"/>
<line x1="170.7" y1="602.55" x2="173.2" y2="602.55" stroke="#4a4a4a" stroke-width="0.8"/>
<line x1="170.7" y1="587.30" x2="173.2" y2="587.30" stroke="#4a4a4a" stroke-width="0.8"/>
<line x1="170.7" y1="572.05" x2="173.2" y2="572.05" stroke="#4a4a4a" stroke-width="0.8"/>
<line x1="170.7" y1="556.80" x2="173.2" y2="556.80" stroke="#4a4a4a" stroke-width="0.8"/>
<line x1="170.7" y1="541.55" x2="173.2" y2="541.55" stroke="#4a4a4a" stroke-width="0.8"/>
<line x1="170.7" y1="526.30" x2="173.2" y2="526.30" stroke="#4a4a4a" stroke-width="0.8"/>
<line x1="170.7" y1="511.05" x2="173.2" y2="511.05" stroke="#4a4a4a" stroke-width="0.8"/>
<line x1="170.7" y1="495.80" x2="173.2" y2="495.80" stroke="#4a4a4a" stroke-width="0.8"/>
<line x1="170.7" y1="480.55" x2="173.2" y2="480.55" stroke="#4a4a4a" stroke-width="0.8"/>
<text x="170.70" y="663.50" font-size="9.8" text-anchor="middle" fill="#1a1a1a" font-weight="normal" >40</text>
<text x="212.94" y="663.50" font-size="9.8" text-anchor="middle" fill="#1a1a1a" font-weight="normal" >80</text>
<text x="255.17" y="663.50" font-size="9.8" text-anchor="middle" fill="#1a1a1a" font-weight="normal" >120</text>
<text x="297.41" y="663.50" font-size="9.8" text-anchor="middle" fill="#1a1a1a" font-weight="normal" >160</text>
<text x="339.65" y="663.50" font-size="9.8" text-anchor="middle" fill="#1a1a1a" font-weight="normal" >200</text>
<text x="381.88" y="663.50" font-size="9.8" text-anchor="middle" fill="#1a1a1a" font-weight="normal" >240</text>
<text x="161.90" y="651.50" font-size="9.8" text-anchor="end" fill="#1a1a1a" font-weight="normal" >0.0</text>
<text x="161.90" y="621.00" font-size="9.8" text-anchor="end" fill="#1a1a1a" font-weight="normal" >0.1</text>
<text x="161.90" y="590.50" font-size="9.8" text-anchor="end" fill="#1a1a1a" font-weight="normal" >0.2</text>
<text x="161.90" y="560.00" font-size="9.8" text-anchor="end" fill="#1a1a1a" font-weight="normal" >0.3</text>
<text x="161.90" y="529.50" font-size="9.8" text-anchor="end" fill="#1a1a1a" font-weight="normal" >0.4</text>
<text x="161.90" y="499.00" font-size="9.8" text-anchor="end" fill="#1a1a1a" font-weight="normal" >0.5</text>
<text x="161.90" y="468.50" font-size="9.8" text-anchor="end" fill="#1a1a1a" font-weight="normal" >0.6</text>
<text transform="translate(141.6 571) rotate(-90)" font-size="13.3" font-weight="bold" text-anchor="middle" fill="#1a1a1a"><tspan font-size="8.0" dy="-4.8">207</tspan><tspan dy="4.8">Pb/</tspan><tspan font-size="8.0" dy="-4.8">206</tspan><tspan dy="4.8">Pb</tspan></text>
<text x="257" y="679.3" font-size="13.5" font-weight="bold" text-anchor="start" fill="#1a1a1a"><tspan font-size="8.5" dy="-4.7">238</tspan><tspan dy="4.7">U/</tspan><tspan font-size="8.5" dy="-4.7">206</tspan><tspan dy="4.7">Pb</tspan></text>
<line x1="170.7" y1="634.00" x2="403" y2="634.00" stroke="#26318a" stroke-width="1.35"/>
<circle cx="354.83" cy="634.00" r="1.7" fill="#fff" stroke="#7a84c0" stroke-width="0.6"/>
<circle cx="298.11" cy="634.00" r="1.7" fill="#fff" stroke="#7a84c0" stroke-width="0.6"/>
<circle cx="264.07" cy="634.00" r="1.7" fill="#fff" stroke="#7a84c0" stroke-width="0.6"/>
<circle cx="241.38" cy="634.00" r="1.7" fill="#fff" stroke="#7a84c0" stroke-width="0.6"/>
<circle cx="225.18" cy="634.00" r="1.7" fill="#fff" stroke="#7a84c0" stroke-width="0.6"/>
<circle cx="213.02" cy="634.00" r="1.7" fill="#fff" stroke="#7a84c0" stroke-width="0.6"/>
<circle cx="203.57" cy="634.00" r="1.7" fill="#fff" stroke="#7a84c0" stroke-width="0.6"/>
<circle cx="196.01" cy="634.00" r="1.7" fill="#fff" stroke="#7a84c0" stroke-width="0.6"/>
<circle cx="189.82" cy="634.00" r="1.7" fill="#fff" stroke="#7a84c0" stroke-width="0.6"/>
<circle cx="184.66" cy="634.00" r="1.7" fill="#fff" stroke="#7a84c0" stroke-width="0.6"/>
<circle cx="180.30" cy="634.00" r="1.7" fill="#fff" stroke="#7a84c0" stroke-width="0.6"/>
<circle cx="176.56" cy="634.00" r="1.7" fill="#fff" stroke="#7a84c0" stroke-width="0.6"/>
<circle cx="173.32" cy="634.00" r="1.7" fill="#fff" stroke="#7a84c0" stroke-width="0.6"/>
<text x="298.11" y="642.70" font-size="7.4" text-anchor="middle" fill="#333" font-weight="normal" >40</text>
<text x="241.38" y="642.70" font-size="7.4" text-anchor="middle" fill="#333" font-weight="normal" >60</text>
<text x="213.02" y="642.70" font-size="7.4" text-anchor="middle" fill="#333" font-weight="normal" >80</text>
<text x="196.01" y="642.70" font-size="7.4" text-anchor="middle" fill="#333" font-weight="normal" >100</text>
<text x="184.66" y="642.70" font-size="7.4" text-anchor="middle" fill="#333" font-weight="normal" >120</text>
<text x="176.56" y="642.70" font-size="7.4" text-anchor="middle" fill="#333" font-weight="normal" >140</text>
<ellipse cx="217.4" cy="515.2" rx="9.0" ry="14.2" transform="rotate(0 217.4 515.2)" fill="rgba(190,190,190,0.55)" stroke="#333" stroke-width="0.6" stroke-opacity="0.85"/>
<ellipse cx="217.4" cy="535.4" rx="15.5" ry="20.4" transform="rotate(0 217.4 535.4)" fill="rgba(190,190,190,0.55)" stroke="#333" stroke-width="0.6" stroke-opacity="0.85"/>
<ellipse cx="279.8" cy="606.9" rx="34.8" ry="78.2" transform="rotate(0 279.8 606.9)" fill="rgba(190,190,190,0.55)" stroke="#333" stroke-width="0.6" stroke-opacity="0.85"/>
<ellipse cx="350.3" cy="633.3" rx="21.0" ry="10.0" transform="rotate(0 350.3 633.3)" fill="rgba(190,190,190,0.55)" stroke="#333" stroke-width="0.6" stroke-opacity="0.85"/>
<text x="181.90" y="481.00" font-size="13.5" text-anchor="start" fill="#1a1a1a" font-weight="normal" >g)</text>
<text x="403.00" y="463.00" font-size="7.8" text-anchor="end" fill="#1a1a1a" font-weight="normal" >data-point error ellipses are 2σ</text>
<rect x="180.5" y="696.2" width="227.3" height="194.29999999999995" fill="#fff" stroke="#4a4a4a" stroke-width="1"/>
<line x1="203.23" y1="890.5" x2="203.23" y2="888.0" stroke="#4a4a4a" stroke-width="0.8"/>
<line x1="225.96" y1="890.5" x2="225.96" y2="888.0" stroke="#4a4a4a" stroke-width="0.8"/>
<line x1="248.69" y1="890.5" x2="248.69" y2="888.0" stroke="#4a4a4a" stroke-width="0.8"/>
<line x1="271.42" y1="890.5" x2="271.42" y2="888.0" stroke="#4a4a4a" stroke-width="0.8"/>
<line x1="294.15" y1="890.5" x2="294.15" y2="888.0" stroke="#4a4a4a" stroke-width="0.8"/>
<line x1="316.88" y1="890.5" x2="316.88" y2="888.0" stroke="#4a4a4a" stroke-width="0.8"/>
<line x1="339.61" y1="890.5" x2="339.61" y2="888.0" stroke="#4a4a4a" stroke-width="0.8"/>
<line x1="362.34" y1="890.5" x2="362.34" y2="888.0" stroke="#4a4a4a" stroke-width="0.8"/>
<line x1="385.07" y1="890.5" x2="385.07" y2="888.0" stroke="#4a4a4a" stroke-width="0.8"/>
<line x1="180.5" y1="871.07" x2="183.0" y2="871.07" stroke="#4a4a4a" stroke-width="0.8"/>
<line x1="180.5" y1="851.64" x2="183.0" y2="851.64" stroke="#4a4a4a" stroke-width="0.8"/>
<line x1="180.5" y1="832.21" x2="183.0" y2="832.21" stroke="#4a4a4a" stroke-width="0.8"/>
<line x1="180.5" y1="812.78" x2="183.0" y2="812.78" stroke="#4a4a4a" stroke-width="0.8"/>
<line x1="180.5" y1="793.35" x2="183.0" y2="793.35" stroke="#4a4a4a" stroke-width="0.8"/>
<line x1="180.5" y1="773.92" x2="183.0" y2="773.92" stroke="#4a4a4a" stroke-width="0.8"/>
<line x1="180.5" y1="754.49" x2="183.0" y2="754.49" stroke="#4a4a4a" stroke-width="0.8"/>
<line x1="180.5" y1="735.06" x2="183.0" y2="735.06" stroke="#4a4a4a" stroke-width="0.8"/>
<line x1="180.5" y1="715.63" x2="183.0" y2="715.63" stroke="#4a4a4a" stroke-width="0.8"/>
<text x="180.50" y="906.80" font-size="9.9" text-anchor="middle" fill="#1a1a1a" font-weight="normal" >140</text>
<text x="225.96" y="906.80" font-size="9.9" text-anchor="middle" fill="#1a1a1a" font-weight="normal" >160</text>
<text x="271.42" y="906.80" font-size="9.9" text-anchor="middle" fill="#1a1a1a" font-weight="normal" >180</text>
<text x="316.88" y="906.80" font-size="9.9" text-anchor="middle" fill="#1a1a1a" font-weight="normal" >200</text>
<text x="362.34" y="906.80" font-size="9.9" text-anchor="middle" fill="#1a1a1a" font-weight="normal" >220</text>
<text x="407.80" y="906.80" font-size="9.9" text-anchor="middle" fill="#1a1a1a" font-weight="normal" >240</text>
<text x="170.70" y="893.60" font-size="9.9" text-anchor="end" fill="#1a1a1a" font-weight="normal" >0.04</text>
<text x="170.70" y="854.74" font-size="9.9" text-anchor="end" fill="#1a1a1a" font-weight="normal" >0.08</text>
<text x="170.70" y="815.88" font-size="9.9" text-anchor="end" fill="#1a1a1a" font-weight="normal" >0.12</text>
<text x="170.70" y="777.02" font-size="9.9" text-anchor="end" fill="#1a1a1a" font-weight="normal" >0.16</text>
<text x="170.70" y="738.16" font-size="9.9" text-anchor="end" fill="#1a1a1a" font-weight="normal" >0.20</text>
<text x="170.70" y="699.30" font-size="9.9" text-anchor="end" fill="#1a1a1a" font-weight="normal" >0.24</text>
<text transform="translate(145.5 808.3) rotate(-90)" font-size="14.3" font-weight="bold" text-anchor="middle" fill="#1a1a1a"><tspan font-size="8.6" dy="-5.1">207</tspan><tspan dy="5.1">Pb/</tspan><tspan font-size="8.6" dy="-5.1">206</tspan><tspan dy="5.1">Pb</tspan></text>
<text x="271.7" y="921.6" font-size="13.4" font-weight="bold" text-anchor="start" fill="#1a1a1a"><tspan font-size="8.6" dy="-4.6">238</tspan><tspan dy="4.6">U</tspan><tspan font-size="8.6" dy="-4.6">/206</tspan><tspan dy="4.6">Pb</tspan></text>
<line x1="214.99" y1="696.20" x2="333.43" y2="890.50" stroke="#3a3a3a" stroke-width="0.8"/>
<line x1="180.5" y1="883.80" x2="407.8" y2="883.80" stroke="#26318a" stroke-width="1.35"/>
<circle cx="384.46" cy="883.80" r="1.7" fill="#fff" stroke="#7a84c0" stroke-width="0.6"/>
<circle cx="349.57" cy="883.80" r="1.7" fill="#fff" stroke="#7a84c0" stroke-width="0.6"/>
<circle cx="319.04" cy="883.80" r="1.7" fill="#fff" stroke="#7a84c0" stroke-width="0.6"/>
<circle cx="292.11" cy="883.80" r="1.7" fill="#fff" stroke="#7a84c0" stroke-width="0.6"/>
<circle cx="268.16" cy="883.80" r="1.7" fill="#fff" stroke="#7a84c0" stroke-width="0.6"/>
<circle cx="246.74" cy="883.80" r="1.7" fill="#fff" stroke="#7a84c0" stroke-width="0.6"/>
<circle cx="227.46" cy="883.80" r="1.7" fill="#fff" stroke="#7a84c0" stroke-width="0.6"/>
<circle cx="210.02" cy="883.80" r="1.7" fill="#fff" stroke="#7a84c0" stroke-width="0.6"/>
<circle cx="194.16" cy="883.80" r="1.7" fill="#fff" stroke="#7a84c0" stroke-width="0.6"/>
<text x="210.02" y="893.00" font-size="7.8" text-anchor="middle" fill="#333" font-weight="normal" >42</text>
<text x="246.74" y="893.00" font-size="7.8" text-anchor="middle" fill="#333" font-weight="normal" >38</text>
<text x="292.11" y="893.00" font-size="7.8" text-anchor="middle" fill="#333" font-weight="normal" >34</text>
<text x="349.57" y="893.00" font-size="7.8" text-anchor="middle" fill="#333" font-weight="normal" >30</text>
<ellipse cx="241.0" cy="761.8" rx="19.9" ry="27.8" transform="rotate(0 241.0 761.8)" fill="rgba(190,190,190,0.55)" stroke="#333" stroke-width="0.6" stroke-opacity="0.85"/>
<ellipse cx="271.4" cy="806.8" rx="21.0" ry="19.5" transform="rotate(0 271.4 806.8)" fill="rgba(190,190,190,0.55)" stroke="#333" stroke-width="0.6" stroke-opacity="0.85"/>
<ellipse cx="270.2" cy="818.1" rx="22.2" ry="18.7" transform="rotate(0 270.2 818.1)" fill="rgba(190,190,190,0.55)" stroke="#333" stroke-width="0.6" stroke-opacity="0.85"/>
<ellipse cx="285.2" cy="819.0" rx="23.6" ry="16.7" transform="rotate(0 285.2 819.0)" fill="rgba(190,190,190,0.55)" stroke="#333" stroke-width="0.6" stroke-opacity="0.85"/>
<ellipse cx="292.5" cy="828.6" rx="21.0" ry="14.0" transform="rotate(0 292.5 828.6)" fill="rgba(190,190,190,0.55)" stroke="#333" stroke-width="0.6" stroke-opacity="0.85"/>
<ellipse cx="317.0" cy="836.5" rx="23.4" ry="20.2" transform="rotate(0 317.0 836.5)" fill="rgba(190,190,190,0.55)" stroke="#333" stroke-width="0.6" stroke-opacity="0.85"/>
<ellipse cx="314.6" cy="875.4" rx="22.2" ry="10.0" transform="rotate(0 314.6 875.4)" fill="rgba(190,190,190,0.55)" stroke="#333" stroke-width="0.6" stroke-opacity="0.85"/>
<ellipse cx="332.7" cy="874.8" rx="21.6" ry="8.8" transform="rotate(0 332.7 874.8)" fill="rgba(190,190,190,0.55)" stroke="#333" stroke-width="0.6" stroke-opacity="0.85"/>
<ellipse cx="331.0" cy="877.7" rx="19.9" ry="7.0" transform="rotate(0 331.0 877.7)" fill="rgba(190,190,190,0.55)" stroke="#333" stroke-width="0.6" stroke-opacity="0.85"/>
<ellipse cx="350.8" cy="881.5" rx="18.7" ry="6.8" transform="rotate(0 350.8 881.5)" fill="rgba(190,190,190,0.55)" stroke="#333" stroke-width="0.6" stroke-opacity="0.85"/>
<ellipse cx="317.6" cy="883.5" rx="20.4" ry="7.0" transform="rotate(0 317.6 883.5)" fill="rgba(190,190,190,0.55)" stroke="#333" stroke-width="0.6" stroke-opacity="0.85"/>
<text x="186.80" y="713.00" font-size="12.6" text-anchor="start" fill="#1a1a1a" font-weight="normal" >j)</text>
<rect x="267" y="699.1" width="139.3" height="35" fill="#fff" stroke="#4a4a4a" stroke-width="0.8"/>
<text x="269.20" y="709.40" font-size="9.05" text-anchor="start" fill="#1a1a1a" font-weight="normal" >Intercept at 31.3±0.3 Ma</text>
<text x="269.20" y="719.60" font-size="9.05" text-anchor="start" fill="#1a1a1a" font-weight="normal" >MSWD = 1.7</text>
<text x="269.20" y="729.80" font-size="9.05" text-anchor="start" fill="#1a1a1a" font-weight="normal" >Anchored at <tspan font-size="6.5" dy="-3">207</tspan><tspan dy="3">Pb/</tspan><tspan font-size="6.5" dy="-3">206</tspan><tspan dy="3">Pb = 0.8356</tspan></text>
<text x="410.00" y="693.40" font-size="7.95" text-anchor="end" fill="#1a1a1a" font-weight="normal" >data-point error ellipses are 2σ</text>
<rect x="457.6" y="18.5" width="222.5" height="188.1" fill="#fff" stroke="#262626" stroke-width="1.1"/>
<line x1="474.72" y1="206.6" x2="474.72" y2="204.1" stroke="#262626" stroke-width="0.8"/>
<line x1="474.72" y1="18.5" x2="474.72" y2="21.0" stroke="#262626" stroke-width="0.8"/>
<line x1="491.83" y1="206.6" x2="491.83" y2="204.1" stroke="#262626" stroke-width="0.8"/>
<line x1="491.83" y1="18.5" x2="491.83" y2="21.0" stroke="#262626" stroke-width="0.8"/>
<line x1="508.95" y1="206.6" x2="508.95" y2="204.1" stroke="#262626" stroke-width="0.8"/>
<line x1="508.95" y1="18.5" x2="508.95" y2="21.0" stroke="#262626" stroke-width="0.8"/>
<line x1="526.06" y1="206.6" x2="526.06" y2="204.1" stroke="#262626" stroke-width="0.8"/>
<line x1="526.06" y1="18.5" x2="526.06" y2="21.0" stroke="#262626" stroke-width="0.8"/>
<line x1="543.18" y1="206.6" x2="543.18" y2="204.1" stroke="#262626" stroke-width="0.8"/>
<line x1="543.18" y1="18.5" x2="543.18" y2="21.0" stroke="#262626" stroke-width="0.8"/>
<line x1="560.29" y1="206.6" x2="560.29" y2="204.1" stroke="#262626" stroke-width="0.8"/>
<line x1="560.29" y1="18.5" x2="560.29" y2="21.0" stroke="#262626" stroke-width="0.8"/>
<line x1="577.41" y1="206.6" x2="577.41" y2="204.1" stroke="#262626" stroke-width="0.8"/>
<line x1="577.41" y1="18.5" x2="577.41" y2="21.0" stroke="#262626" stroke-width="0.8"/>
<line x1="594.52" y1="206.6" x2="594.52" y2="204.1" stroke="#262626" stroke-width="0.8"/>
<line x1="594.52" y1="18.5" x2="594.52" y2="21.0" stroke="#262626" stroke-width="0.8"/>
<line x1="611.64" y1="206.6" x2="611.64" y2="204.1" stroke="#262626" stroke-width="0.8"/>
<line x1="611.64" y1="18.5" x2="611.64" y2="21.0" stroke="#262626" stroke-width="0.8"/>
<line x1="628.75" y1="206.6" x2="628.75" y2="204.1" stroke="#262626" stroke-width="0.8"/>
<line x1="628.75" y1="18.5" x2="628.75" y2="21.0" stroke="#262626" stroke-width="0.8"/>
<line x1="645.87" y1="206.6" x2="645.87" y2="204.1" stroke="#262626" stroke-width="0.8"/>
<line x1="645.87" y1="18.5" x2="645.87" y2="21.0" stroke="#262626" stroke-width="0.8"/>
<line x1="662.98" y1="206.6" x2="662.98" y2="204.1" stroke="#262626" stroke-width="0.8"/>
<line x1="662.98" y1="18.5" x2="662.98" y2="21.0" stroke="#262626" stroke-width="0.8"/>
<line x1="457.6" y1="206.60" x2="460.1" y2="206.60" stroke="#262626" stroke-width="0.6"/>
<line x1="680.1" y1="206.60" x2="677.6" y2="206.60" stroke="#262626" stroke-width="0.6"/>
<line x1="457.6" y1="197.16" x2="458.90000000000003" y2="197.16" stroke="#262626" stroke-width="0.6"/>
<line x1="680.1" y1="197.16" x2="678.8000000000001" y2="197.16" stroke="#262626" stroke-width="0.6"/>
<line x1="457.6" y1="191.64" x2="458.90000000000003" y2="191.64" stroke="#262626" stroke-width="0.6"/>
<line x1="680.1" y1="191.64" x2="678.8000000000001" y2="191.64" stroke="#262626" stroke-width="0.6"/>
<line x1="457.6" y1="187.73" x2="458.90000000000003" y2="187.73" stroke="#262626" stroke-width="0.6"/>
<line x1="680.1" y1="187.73" x2="678.8000000000001" y2="187.73" stroke="#262626" stroke-width="0.6"/>
<line x1="457.6" y1="184.69" x2="458.90000000000003" y2="184.69" stroke="#262626" stroke-width="0.6"/>
<line x1="680.1" y1="184.69" x2="678.8000000000001" y2="184.69" stroke="#262626" stroke-width="0.6"/>
<line x1="457.6" y1="182.20" x2="458.90000000000003" y2="182.20" stroke="#262626" stroke-width="0.6"/>
<line x1="680.1" y1="182.20" x2="678.8000000000001" y2="182.20" stroke="#262626" stroke-width="0.6"/>
<line x1="457.6" y1="180.11" x2="458.90000000000003" y2="180.11" stroke="#262626" stroke-width="0.6"/>
<line x1="680.1" y1="180.11" x2="678.8000000000001" y2="180.11" stroke="#262626" stroke-width="0.6"/>
<line x1="457.6" y1="178.29" x2="458.90000000000003" y2="178.29" stroke="#262626" stroke-width="0.6"/>
<line x1="680.1" y1="178.29" x2="678.8000000000001" y2="178.29" stroke="#262626" stroke-width="0.6"/>
<line x1="457.6" y1="176.68" x2="458.90000000000003" y2="176.68" stroke="#262626" stroke-width="0.6"/>
<line x1="680.1" y1="176.68" x2="678.8000000000001" y2="176.68" stroke="#262626" stroke-width="0.6"/>
<line x1="457.6" y1="175.25" x2="460.1" y2="175.25" stroke="#262626" stroke-width="0.6"/>
<line x1="680.1" y1="175.25" x2="677.6" y2="175.25" stroke="#262626" stroke-width="0.6"/>
<line x1="457.6" y1="165.81" x2="458.90000000000003" y2="165.81" stroke="#262626" stroke-width="0.6"/>
<line x1="680.1" y1="165.81" x2="678.8000000000001" y2="165.81" stroke="#262626" stroke-width="0.6"/>
<line x1="457.6" y1="160.29" x2="458.90000000000003" y2="160.29" stroke="#262626" stroke-width="0.6"/>
<line x1="680.1" y1="160.29" x2="678.8000000000001" y2="160.29" stroke="#262626" stroke-width="0.6"/>
<line x1="457.6" y1="156.38" x2="458.90000000000003" y2="156.38" stroke="#262626" stroke-width="0.6"/>
<line x1="680.1" y1="156.38" x2="678.8000000000001" y2="156.38" stroke="#262626" stroke-width="0.6"/>
<line x1="457.6" y1="153.34" x2="458.90000000000003" y2="153.34" stroke="#262626" stroke-width="0.6"/>
<line x1="680.1" y1="153.34" x2="678.8000000000001" y2="153.34" stroke="#262626" stroke-width="0.6"/>
<line x1="457.6" y1="150.85" x2="458.90000000000003" y2="150.85" stroke="#262626" stroke-width="0.6"/>
<line x1="680.1" y1="150.85" x2="678.8000000000001" y2="150.85" stroke="#262626" stroke-width="0.6"/>
<line x1="457.6" y1="148.76" x2="458.90000000000003" y2="148.76" stroke="#262626" stroke-width="0.6"/>
<line x1="680.1" y1="148.76" x2="678.8000000000001" y2="148.76" stroke="#262626" stroke-width="0.6"/>
<line x1="457.6" y1="146.94" x2="458.90000000000003" y2="146.94" stroke="#262626" stroke-width="0.6"/>
<line x1="680.1" y1="146.94" x2="678.8000000000001" y2="146.94" stroke="#262626" stroke-width="0.6"/>
<line x1="457.6" y1="145.33" x2="458.90000000000003" y2="145.33" stroke="#262626" stroke-width="0.6"/>
<line x1="680.1" y1="145.33" x2="678.8000000000001" y2="145.33" stroke="#262626" stroke-width="0.6"/>
<line x1="457.6" y1="143.90" x2="460.1" y2="143.90" stroke="#262626" stroke-width="0.6"/>
<line x1="680.1" y1="143.90" x2="677.6" y2="143.90" stroke="#262626" stroke-width="0.6"/>
<line x1="457.6" y1="134.46" x2="458.90000000000003" y2="134.46" stroke="#262626" stroke-width="0.6"/>
<line x1="680.1" y1="134.46" x2="678.8000000000001" y2="134.46" stroke="#262626" stroke-width="0.6"/>
<line x1="457.6" y1="128.94" x2="458.90000000000003" y2="128.94" stroke="#262626" stroke-width="0.6"/>
<line x1="680.1" y1="128.94" x2="678.8000000000001" y2="128.94" stroke="#262626" stroke-width="0.6"/>
<line x1="457.6" y1="125.03" x2="458.90000000000003" y2="125.03" stroke="#262626" stroke-width="0.6"/>
<line x1="680.1" y1="125.03" x2="678.8000000000001" y2="125.03" stroke="#262626" stroke-width="0.6"/>
<line x1="457.6" y1="121.99" x2="458.90000000000003" y2="121.99" stroke="#262626" stroke-width="0.6"/>
<line x1="680.1" y1="121.99" x2="678.8000000000001" y2="121.99" stroke="#262626" stroke-width="0.6"/>
<line x1="457.6" y1="119.50" x2="458.90000000000003" y2="119.50" stroke="#262626" stroke-width="0.6"/>
<line x1="680.1" y1="119.50" x2="678.8000000000001" y2="119.50" stroke="#262626" stroke-width="0.6"/>
<line x1="457.6" y1="117.41" x2="458.90000000000003" y2="117.41" stroke="#262626" stroke-width="0.6"/>
<line x1="680.1" y1="117.41" x2="678.8000000000001" y2="117.41" stroke="#262626" stroke-width="0.6"/>
<line x1="457.6" y1="115.59" x2="458.90000000000003" y2="115.59" stroke="#262626" stroke-width="0.6"/>
<line x1="680.1" y1="115.59" x2="678.8000000000001" y2="115.59" stroke="#262626" stroke-width="0.6"/>
<line x1="457.6" y1="113.98" x2="458.90000000000003" y2="113.98" stroke="#262626" stroke-width="0.6"/>
<line x1="680.1" y1="113.98" x2="678.8000000000001" y2="113.98" stroke="#262626" stroke-width="0.6"/>
<line x1="457.6" y1="112.55" x2="460.1" y2="112.55" stroke="#262626" stroke-width="0.6"/>
<line x1="680.1" y1="112.55" x2="677.6" y2="112.55" stroke="#262626" stroke-width="0.6"/>
<line x1="457.6" y1="103.11" x2="458.90000000000003" y2="103.11" stroke="#262626" stroke-width="0.6"/>
<line x1="680.1" y1="103.11" x2="678.8000000000001" y2="103.11" stroke="#262626" stroke-width="0.6"/>
<line x1="457.6" y1="97.59" x2="458.90000000000003" y2="97.59" stroke="#262626" stroke-width="0.6"/>
<line x1="680.1" y1="97.59" x2="678.8000000000001" y2="97.59" stroke="#262626" stroke-width="0.6"/>
<line x1="457.6" y1="93.68" x2="458.90000000000003" y2="93.68" stroke="#262626" stroke-width="0.6"/>
<line x1="680.1" y1="93.68" x2="678.8000000000001" y2="93.68" stroke="#262626" stroke-width="0.6"/>
<line x1="457.6" y1="90.64" x2="458.90000000000003" y2="90.64" stroke="#262626" stroke-width="0.6"/>
<line x1="680.1" y1="90.64" x2="678.8000000000001" y2="90.64" stroke="#262626" stroke-width="0.6"/>
<line x1="457.6" y1="88.15" x2="458.90000000000003" y2="88.15" stroke="#262626" stroke-width="0.6"/>
<line x1="680.1" y1="88.15" x2="678.8000000000001" y2="88.15" stroke="#262626" stroke-width="0.6"/>
<line x1="457.6" y1="86.06" x2="458.90000000000003" y2="86.06" stroke="#262626" stroke-width="0.6"/>
<line x1="680.1" y1="86.06" x2="678.8000000000001" y2="86.06" stroke="#262626" stroke-width="0.6"/>
<line x1="457.6" y1="84.24" x2="458.90000000000003" y2="84.24" stroke="#262626" stroke-width="0.6"/>
<line x1="680.1" y1="84.24" x2="678.8000000000001" y2="84.24" stroke="#262626" stroke-width="0.6"/>
<line x1="457.6" y1="82.63" x2="458.90000000000003" y2="82.63" stroke="#262626" stroke-width="0.6"/>
<line x1="680.1" y1="82.63" x2="678.8000000000001" y2="82.63" stroke="#262626" stroke-width="0.6"/>
<line x1="457.6" y1="81.20" x2="460.1" y2="81.20" stroke="#262626" stroke-width="0.6"/>
<line x1="680.1" y1="81.20" x2="677.6" y2="81.20" stroke="#262626" stroke-width="0.6"/>
<line x1="457.6" y1="71.76" x2="458.90000000000003" y2="71.76" stroke="#262626" stroke-width="0.6"/>
<line x1="680.1" y1="71.76" x2="678.8000000000001" y2="71.76" stroke="#262626" stroke-width="0.6"/>
<line x1="457.6" y1="66.24" x2="458.90000000000003" y2="66.24" stroke="#262626" stroke-width="0.6"/>
<line x1="680.1" y1="66.24" x2="678.8000000000001" y2="66.24" stroke="#262626" stroke-width="0.6"/>
<line x1="457.6" y1="62.33" x2="458.90000000000003" y2="62.33" stroke="#262626" stroke-width="0.6"/>
<line x1="680.1" y1="62.33" x2="678.8000000000001" y2="62.33" stroke="#262626" stroke-width="0.6"/>
<line x1="457.6" y1="59.29" x2="458.90000000000003" y2="59.29" stroke="#262626" stroke-width="0.6"/>
<line x1="680.1" y1="59.29" x2="678.8000000000001" y2="59.29" stroke="#262626" stroke-width="0.6"/>
<line x1="457.6" y1="56.80" x2="458.90000000000003" y2="56.80" stroke="#262626" stroke-width="0.6"/>
<line x1="680.1" y1="56.80" x2="678.8000000000001" y2="56.80" stroke="#262626" stroke-width="0.6"/>
<line x1="457.6" y1="54.71" x2="458.90000000000003" y2="54.71" stroke="#262626" stroke-width="0.6"/>
<line x1="680.1" y1="54.71" x2="678.8000000000001" y2="54.71" stroke="#262626" stroke-width="0.6"/>
<line x1="457.6" y1="52.89" x2="458.90000000000003" y2="52.89" stroke="#262626" stroke-width="0.6"/>
<line x1="680.1" y1="52.89" x2="678.8000000000001" y2="52.89" stroke="#262626" stroke-width="0.6"/>
<line x1="457.6" y1="51.28" x2="458.90000000000003" y2="51.28" stroke="#262626" stroke-width="0.6"/>
<line x1="680.1" y1="51.28" x2="678.8000000000001" y2="51.28" stroke="#262626" stroke-width="0.6"/>
<line x1="457.6" y1="49.85" x2="460.1" y2="49.85" stroke="#262626" stroke-width="0.6"/>
<line x1="680.1" y1="49.85" x2="677.6" y2="49.85" stroke="#262626" stroke-width="0.6"/>
<line x1="457.6" y1="40.41" x2="458.90000000000003" y2="40.41" stroke="#262626" stroke-width="0.6"/>
<line x1="680.1" y1="40.41" x2="678.8000000000001" y2="40.41" stroke="#262626" stroke-width="0.6"/>
<line x1="457.6" y1="34.89" x2="458.90000000000003" y2="34.89" stroke="#262626" stroke-width="0.6"/>
<line x1="680.1" y1="34.89" x2="678.8000000000001" y2="34.89" stroke="#262626" stroke-width="0.6"/>
<line x1="457.6" y1="30.98" x2="458.90000000000003" y2="30.98" stroke="#262626" stroke-width="0.6"/>
<line x1="680.1" y1="30.98" x2="678.8000000000001" y2="30.98" stroke="#262626" stroke-width="0.6"/>
<line x1="457.6" y1="27.94" x2="458.90000000000003" y2="27.94" stroke="#262626" stroke-width="0.6"/>
<line x1="680.1" y1="27.94" x2="678.8000000000001" y2="27.94" stroke="#262626" stroke-width="0.6"/>
<line x1="457.6" y1="25.45" x2="458.90000000000003" y2="25.45" stroke="#262626" stroke-width="0.6"/>
<line x1="680.1" y1="25.45" x2="678.8000000000001" y2="25.45" stroke="#262626" stroke-width="0.6"/>
<line x1="457.6" y1="23.36" x2="458.90000000000003" y2="23.36" stroke="#262626" stroke-width="0.6"/>
<line x1="680.1" y1="23.36" x2="678.8000000000001" y2="23.36" stroke="#262626" stroke-width="0.6"/>
<line x1="457.6" y1="21.54" x2="458.90000000000003" y2="21.54" stroke="#262626" stroke-width="0.6"/>
<line x1="680.1" y1="21.54" x2="678.8000000000001" y2="21.54" stroke="#262626" stroke-width="0.6"/>
<line x1="457.6" y1="19.93" x2="458.90000000000003" y2="19.93" stroke="#262626" stroke-width="0.6"/>
<line x1="680.1" y1="19.93" x2="678.8000000000001" y2="19.93" stroke="#262626" stroke-width="0.6"/>
<text x="450.20000000000005" y="212.00" font-size="8.6" font-weight="bold" text-anchor="end" fill="#1a1a1a">10</text>
<text x="450.0" y="206.40" font-size="6.4" font-weight="bold" text-anchor="start" fill="#1a1a1a">-3</text>
<text x="450.20000000000005" y="180.65" font-size="8.6" font-weight="bold" text-anchor="end" fill="#1a1a1a">10</text>
<text x="450.0" y="175.05" font-size="6.4" font-weight="bold" text-anchor="start" fill="#1a1a1a">-2</text>
<text x="450.20000000000005" y="149.30" font-size="8.6" font-weight="bold" text-anchor="end" fill="#1a1a1a">10</text>
<text x="450.0" y="143.70" font-size="6.4" font-weight="bold" text-anchor="start" fill="#1a1a1a">-1</text>
<text x="450.20000000000005" y="117.95" font-size="8.6" font-weight="bold" text-anchor="end" fill="#1a1a1a">10</text>
<text x="450.0" y="112.35" font-size="6.4" font-weight="bold" text-anchor="start" fill="#1a1a1a">0</text>
<text x="450.20000000000005" y="86.60" font-size="8.6" font-weight="bold" text-anchor="end" fill="#1a1a1a">10</text>
<text x="450.0" y="81.00" font-size="6.4" font-weight="bold" text-anchor="start" fill="#1a1a1a">1</text>
<text x="450.20000000000005" y="55.25" font-size="8.6" font-weight="bold" text-anchor="end" fill="#1a1a1a">10</text>
<text x="450.0" y="49.65" font-size="6.4" font-weight="bold" text-anchor="start" fill="#1a1a1a">2</text>
<text x="450.20000000000005" y="23.90" font-size="8.6" font-weight="bold" text-anchor="end" fill="#1a1a1a">10</text>
<text x="450.0" y="18.30" font-size="6.4" font-weight="bold" text-anchor="start" fill="#1a1a1a">3</text>
<text transform="translate(461.80 218.60) rotate(-30)" font-size="9.4" font-weight="bold" text-anchor="end" fill="#1a1a1a">La</text>
<text transform="translate(478.92 218.60) rotate(-30)" font-size="9.4" font-weight="bold" text-anchor="end" fill="#1a1a1a">Ce</text>
<text transform="translate(496.03 218.60) rotate(-30)" font-size="9.4" font-weight="bold" text-anchor="end" fill="#1a1a1a">Pr</text>
<text transform="translate(513.15 218.60) rotate(-30)" font-size="9.4" font-weight="bold" text-anchor="end" fill="#1a1a1a">Nd</text>
<text transform="translate(530.26 218.60) rotate(-30)" font-size="9.4" font-weight="bold" text-anchor="end" fill="#1a1a1a">Sm</text>
<text transform="translate(547.38 218.60) rotate(-30)" font-size="9.4" font-weight="bold" text-anchor="end" fill="#1a1a1a">Eu</text>
<text transform="translate(564.49 218.60) rotate(-30)" font-size="9.4" font-weight="bold" text-anchor="end" fill="#1a1a1a">Gd</text>
<text transform="translate(581.61 218.60) rotate(-30)" font-size="9.4" font-weight="bold" text-anchor="end" fill="#1a1a1a">Tb</text>
<text transform="translate(598.72 218.60) rotate(-30)" font-size="9.4" font-weight="bold" text-anchor="end" fill="#1a1a1a">Dy</text>
<text transform="translate(615.84 218.60) rotate(-30)" font-size="9.4" font-weight="bold" text-anchor="end" fill="#1a1a1a">Ho</text>
<text transform="translate(632.95 218.60) rotate(-30)" font-size="9.4" font-weight="bold" text-anchor="end" fill="#1a1a1a">Er</text>
<text transform="translate(650.07 218.60) rotate(-30)" font-size="9.4" font-weight="bold" text-anchor="end" fill="#1a1a1a">Tm</text>
<text transform="translate(667.18 218.60) rotate(-30)" font-size="9.4" font-weight="bold" text-anchor="end" fill="#1a1a1a">Yb</text>
<text transform="translate(684.30 218.60) rotate(-30)" font-size="9.4" font-weight="bold" text-anchor="end" fill="#1a1a1a">Lu</text>
<text transform="translate(433.8 112.55) rotate(-90) scale(1,0.88)" font-size="10.3" font-weight="bold" text-anchor="middle" fill="#1a1a1a">Zircon/Chondrite</text>
<polyline points="457.6,141.4 474.7,101.2 491.8,138.4 508.9,134.5 526.1,122.0 543.2,112.5 560.3,100.1 577.4,90.6 594.5,84.2 611.6,81.2 628.8,78.7 645.9,75.7 663.0,71.8 680.1,66.2" fill="none" stroke="#111" stroke-width="1.2" stroke-linejoin="round"/>
<polyline points="457.6,141.4 474.7,138.4 491.8,135.9 508.9,133.2 526.1,120.7 543.2,111.3 560.3,98.5 577.4,89.3 594.5,82.6 611.6,79.9 628.8,76.6 645.9,71.8 663.0,66.2 680.1,56.8" fill="none" stroke="#111" stroke-width="1.2" stroke-linejoin="round"/>
<polyline points="457.6,146.9 474.7,142.6 491.8,140.3 508.9,137.5 526.1,125.0 543.2,112.5 560.3,101.8 577.4,90.6 594.5,84.2 611.6,82.6 628.8,81.2 645.9,78.7 663.0,74.8 680.1,68.7" fill="none" stroke="#111" stroke-width="1.2" stroke-linejoin="round"/>
<polyline points="457.6,150.9 474.7,146.9 491.8,143.9 508.9,141.4 526.1,128.9 543.2,115.6 560.3,103.1 577.4,92.1 594.5,86.1 611.6,84.2 628.8,84.2 645.9,86.1 663.0,84.2 680.1,81.2" fill="none" stroke="#111" stroke-width="1.2" stroke-linejoin="round"/>
<polyline points="457.6,169.7 474.7,153.3 491.8,158.2 508.9,146.9 526.1,131.4 543.2,117.4 560.3,103.1 577.4,90.6 594.5,84.2 611.6,82.6 628.8,79.9 645.9,76.6 663.0,73.2 680.1,69.3" fill="none" stroke="#111" stroke-width="1.2" stroke-linejoin="round"/>
<polyline points="457.6,172.8 474.7,160.3 491.8,160.3 508.9,150.9 526.1,135.9 543.2,119.5 560.3,104.5 577.4,93.0 594.5,88.2 611.6,87.1 628.8,88.2 645.9,92.1 663.0,95.5 680.1,94.4" fill="none" stroke="#111" stroke-width="1.2" stroke-linejoin="round"/>
<polyline points="457.6,175.2 474.7,164.5 491.8,162.8 508.9,153.3 526.1,138.4 543.2,122.0 560.3,107.0 577.4,93.7 594.5,87.1 611.6,86.1 628.8,87.1 645.9,88.2 663.0,89.3 680.1,86.1" fill="none" stroke="#111" stroke-width="1.2" stroke-linejoin="round"/>
<polyline points="457.6,197.2 474.7,162.8 491.8,168.9" fill="none" stroke="#111" stroke-width="1.2" stroke-linejoin="round"/>
<polyline points="508.9,162.8 526.1,143.9 543.2,122.0 560.3,106.2 577.4,92.1 594.5,85.1 611.6,82.6 628.8,79.9 645.9,77.6 663.0,74.0 680.1,70.5" fill="none" stroke="#111" stroke-width="1.2" stroke-linejoin="round"/>
<polyline points="508.9,182.2 526.1,146.9 543.2,125.0 560.3,109.0 577.4,93.7 594.5,86.1 611.6,84.2 628.8,82.6 645.9,78.7 663.0,75.7 680.1,73.2" fill="none" stroke="#111" stroke-width="1.2" stroke-linejoin="round"/>
<polyline points="526.1,126.8 543.2,112.5 560.3,101.2 577.4,90.1 594.5,82.6 611.6,81.2 628.8,77.6 645.9,74.0 663.0,68.7 680.1,64.1" fill="none" stroke="#111" stroke-width="1.2" stroke-linejoin="round"/>
<polyline points="526.1,134.5 543.2,117.4 560.3,103.1 577.4,91.2 594.5,83.4 611.6,81.9 628.8,82.6 645.9,84.2 663.0,82.6 680.1,78.7" fill="none" stroke="#111" stroke-width="1.2" stroke-linejoin="round"/>
<polyline points="457.6,178.3 474.7,168.9" fill="none" stroke="#b02a2a" stroke-width="1.2" stroke-linejoin="round"/>
<polyline points="543.2,129.9 560.3,114.0 577.4,90.6 594.5,75.7 611.6,65.4 628.8,54.7 645.9,49.8 663.0,45.3 680.1,40.4" fill="none" stroke="#b02a2a" stroke-width="1.2" stroke-linejoin="round"/>
<polyline points="526.1,148.8 543.2,128.9 560.3,112.5 577.4,97.6 594.5,88.2 611.6,82.6 628.8,75.7 645.9,70.5 663.0,65.4 680.1,60.7" fill="none" stroke="#b02a2a" stroke-width="1.2" stroke-linejoin="round"/>
<polyline points="543.2,145.3 560.3,125.0 577.4,109.0 594.5,97.1 611.6,86.1 628.8,76.6 645.9,70.5 663.0,64.1 680.1,58.0" fill="none" stroke="#b02a2a" stroke-width="1.2" stroke-linejoin="round"/>
<polyline points="543.2,143.9 560.3,123.4 577.4,107.0 594.5,95.5 611.6,87.1 628.8,77.6 645.9,71.8 663.0,66.2 680.1,62.3" fill="none" stroke="#b02a2a" stroke-width="1.2" stroke-linejoin="round"/>
<text x="461.60" y="36.00" font-size="13.3" text-anchor="start" fill="#1a1a1a" font-weight="normal" >c)</text>
<rect x="592" y="182.6" width="84.5" height="19.7" fill="#fff" stroke="#262626" stroke-width="0.8"/>
<line x1="595" y1="187.53" x2="609.5" y2="187.53" stroke="#b02a2a" stroke-width="1.5"/>
<text x="612.00" y="189.72" font-size="6.2" text-anchor="start" fill="#1a1a1a" font-weight="bold" >steep MREE to HREE</text>
<line x1="595" y1="197.38" x2="609.5" y2="197.38" stroke="#111" stroke-width="1.5"/>
<text x="612.00" y="199.57" font-size="6.2" text-anchor="start" fill="#1a1a1a" font-weight="bold" >flat MREE to HREE</text>
<rect x="455.5" y="352.3" width="222.29999999999995" height="188.99999999999994" fill="#fff" stroke="#262626" stroke-width="1.1"/>
<line x1="472.60" y1="541.3" x2="472.60" y2="538.8" stroke="#262626" stroke-width="0.8"/>
<line x1="472.60" y1="352.3" x2="472.60" y2="354.8" stroke="#262626" stroke-width="0.8"/>
<line x1="489.70" y1="541.3" x2="489.70" y2="538.8" stroke="#262626" stroke-width="0.8"/>
<line x1="489.70" y1="352.3" x2="489.70" y2="354.8" stroke="#262626" stroke-width="0.8"/>
<line x1="506.80" y1="541.3" x2="506.80" y2="538.8" stroke="#262626" stroke-width="0.8"/>
<line x1="506.80" y1="352.3" x2="506.80" y2="354.8" stroke="#262626" stroke-width="0.8"/>
<line x1="523.90" y1="541.3" x2="523.90" y2="538.8" stroke="#262626" stroke-width="0.8"/>
<line x1="523.90" y1="352.3" x2="523.90" y2="354.8" stroke="#262626" stroke-width="0.8"/>
<line x1="541.00" y1="541.3" x2="541.00" y2="538.8" stroke="#262626" stroke-width="0.8"/>
<line x1="541.00" y1="352.3" x2="541.00" y2="354.8" stroke="#262626" stroke-width="0.8"/>
<line x1="558.10" y1="541.3" x2="558.10" y2="538.8" stroke="#262626" stroke-width="0.8"/>
<line x1="558.10" y1="352.3" x2="558.10" y2="354.8" stroke="#262626" stroke-width="0.8"/>
<line x1="575.20" y1="541.3" x2="575.20" y2="538.8" stroke="#262626" stroke-width="0.8"/>
<line x1="575.20" y1="352.3" x2="575.20" y2="354.8" stroke="#262626" stroke-width="0.8"/>
<line x1="592.30" y1="541.3" x2="592.30" y2="538.8" stroke="#262626" stroke-width="0.8"/>
<line x1="592.30" y1="352.3" x2="592.30" y2="354.8" stroke="#262626" stroke-width="0.8"/>
<line x1="609.40" y1="541.3" x2="609.40" y2="538.8" stroke="#262626" stroke-width="0.8"/>
<line x1="609.40" y1="352.3" x2="609.40" y2="354.8" stroke="#262626" stroke-width="0.8"/>
<line x1="626.50" y1="541.3" x2="626.50" y2="538.8" stroke="#262626" stroke-width="0.8"/>
<line x1="626.50" y1="352.3" x2="626.50" y2="354.8" stroke="#262626" stroke-width="0.8"/>
<line x1="643.60" y1="541.3" x2="643.60" y2="538.8" stroke="#262626" stroke-width="0.8"/>
<line x1="643.60" y1="352.3" x2="643.60" y2="354.8" stroke="#262626" stroke-width="0.8"/>
<line x1="660.70" y1="541.3" x2="660.70" y2="538.8" stroke="#262626" stroke-width="0.8"/>
<line x1="660.70" y1="352.3" x2="660.70" y2="354.8" stroke="#262626" stroke-width="0.8"/>
<line x1="455.5" y1="541.30" x2="458.0" y2="541.30" stroke="#262626" stroke-width="0.6"/>
<line x1="677.8" y1="541.30" x2="675.3" y2="541.30" stroke="#262626" stroke-width="0.6"/>
<line x1="455.5" y1="531.82" x2="456.8" y2="531.82" stroke="#262626" stroke-width="0.6"/>
<line x1="677.8" y1="531.82" x2="676.5" y2="531.82" stroke="#262626" stroke-width="0.6"/>
<line x1="455.5" y1="526.27" x2="456.8" y2="526.27" stroke="#262626" stroke-width="0.6"/>
<line x1="677.8" y1="526.27" x2="676.5" y2="526.27" stroke="#262626" stroke-width="0.6"/>
<line x1="455.5" y1="522.34" x2="456.8" y2="522.34" stroke="#262626" stroke-width="0.6"/>
<line x1="677.8" y1="522.34" x2="676.5" y2="522.34" stroke="#262626" stroke-width="0.6"/>
<line x1="455.5" y1="519.28" x2="456.8" y2="519.28" stroke="#262626" stroke-width="0.6"/>
<line x1="677.8" y1="519.28" x2="676.5" y2="519.28" stroke="#262626" stroke-width="0.6"/>
<line x1="455.5" y1="516.79" x2="456.8" y2="516.79" stroke="#262626" stroke-width="0.6"/>
<line x1="677.8" y1="516.79" x2="676.5" y2="516.79" stroke="#262626" stroke-width="0.6"/>
<line x1="455.5" y1="514.68" x2="456.8" y2="514.68" stroke="#262626" stroke-width="0.6"/>
<line x1="677.8" y1="514.68" x2="676.5" y2="514.68" stroke="#262626" stroke-width="0.6"/>
<line x1="455.5" y1="512.85" x2="456.8" y2="512.85" stroke="#262626" stroke-width="0.6"/>
<line x1="677.8" y1="512.85" x2="676.5" y2="512.85" stroke="#262626" stroke-width="0.6"/>
<line x1="455.5" y1="511.24" x2="456.8" y2="511.24" stroke="#262626" stroke-width="0.6"/>
<line x1="677.8" y1="511.24" x2="676.5" y2="511.24" stroke="#262626" stroke-width="0.6"/>
<line x1="455.5" y1="509.80" x2="458.0" y2="509.80" stroke="#262626" stroke-width="0.6"/>
<line x1="677.8" y1="509.80" x2="675.3" y2="509.80" stroke="#262626" stroke-width="0.6"/>
<line x1="455.5" y1="500.32" x2="456.8" y2="500.32" stroke="#262626" stroke-width="0.6"/>
<line x1="677.8" y1="500.32" x2="676.5" y2="500.32" stroke="#262626" stroke-width="0.6"/>
<line x1="455.5" y1="494.77" x2="456.8" y2="494.77" stroke="#262626" stroke-width="0.6"/>
<line x1="677.8" y1="494.77" x2="676.5" y2="494.77" stroke="#262626" stroke-width="0.6"/>
<line x1="455.5" y1="490.84" x2="456.8" y2="490.84" stroke="#262626" stroke-width="0.6"/>
<line x1="677.8" y1="490.84" x2="676.5" y2="490.84" stroke="#262626" stroke-width="0.6"/>
<line x1="455.5" y1="487.78" x2="456.8" y2="487.78" stroke="#262626" stroke-width="0.6"/>
<line x1="677.8" y1="487.78" x2="676.5" y2="487.78" stroke="#262626" stroke-width="0.6"/>
<line x1="455.5" y1="485.29" x2="456.8" y2="485.29" stroke="#262626" stroke-width="0.6"/>
<line x1="677.8" y1="485.29" x2="676.5" y2="485.29" stroke="#262626" stroke-width="0.6"/>
<line x1="455.5" y1="483.18" x2="456.8" y2="483.18" stroke="#262626" stroke-width="0.6"/>
<line x1="677.8" y1="483.18" x2="676.5" y2="483.18" stroke="#262626" stroke-width="0.6"/>
<line x1="455.5" y1="481.35" x2="456.8" y2="481.35" stroke="#262626" stroke-width="0.6"/>
<line x1="677.8" y1="481.35" x2="676.5" y2="481.35" stroke="#262626" stroke-width="0.6"/>
<line x1="455.5" y1="479.74" x2="456.8" y2="479.74" stroke="#262626" stroke-width="0.6"/>
<line x1="677.8" y1="479.74" x2="676.5" y2="479.74" stroke="#262626" stroke-width="0.6"/>
<line x1="455.5" y1="478.30" x2="458.0" y2="478.30" stroke="#262626" stroke-width="0.6"/>
<line x1="677.8" y1="478.30" x2="675.3" y2="478.30" stroke="#262626" stroke-width="0.6"/>
<line x1="455.5" y1="468.82" x2="456.8" y2="468.82" stroke="#262626" stroke-width="0.6"/>
<line x1="677.8" y1="468.82" x2="676.5" y2="468.82" stroke="#262626" stroke-width="0.6"/>
<line x1="455.5" y1="463.27" x2="456.8" y2="463.27" stroke="#262626" stroke-width="0.6"/>
<line x1="677.8" y1="463.27" x2="676.5" y2="463.27" stroke="#262626" stroke-width="0.6"/>
<line x1="455.5" y1="459.34" x2="456.8" y2="459.34" stroke="#262626" stroke-width="0.6"/>
<line x1="677.8" y1="459.34" x2="676.5" y2="459.34" stroke="#262626" stroke-width="0.6"/>
<line x1="455.5" y1="456.28" x2="456.8" y2="456.28" stroke="#262626" stroke-width="0.6"/>
<line x1="677.8" y1="456.28" x2="676.5" y2="456.28" stroke="#262626" stroke-width="0.6"/>
<line x1="455.5" y1="453.79" x2="456.8" y2="453.79" stroke="#262626" stroke-width="0.6"/>
<line x1="677.8" y1="453.79" x2="676.5" y2="453.79" stroke="#262626" stroke-width="0.6"/>
<line x1="455.5" y1="451.68" x2="456.8" y2="451.68" stroke="#262626" stroke-width="0.6"/>
<line x1="677.8" y1="451.68" x2="676.5" y2="451.68" stroke="#262626" stroke-width="0.6"/>
<line x1="455.5" y1="449.85" x2="456.8" y2="449.85" stroke="#262626" stroke-width="0.6"/>
<line x1="677.8" y1="449.85" x2="676.5" y2="449.85" stroke="#262626" stroke-width="0.6"/>
<line x1="455.5" y1="448.24" x2="456.8" y2="448.24" stroke="#262626" stroke-width="0.6"/>
<line x1="677.8" y1="448.24" x2="676.5" y2="448.24" stroke="#262626" stroke-width="0.6"/>
<line x1="455.5" y1="446.80" x2="458.0" y2="446.80" stroke="#262626" stroke-width="0.6"/>
<line x1="677.8" y1="446.80" x2="675.3" y2="446.80" stroke="#262626" stroke-width="0.6"/>
<line x1="455.5" y1="437.32" x2="456.8" y2="437.32" stroke="#262626" stroke-width="0.6"/>
<line x1="677.8" y1="437.32" x2="676.5" y2="437.32" stroke="#262626" stroke-width="0.6"/>
<line x1="455.5" y1="431.77" x2="456.8" y2="431.77" stroke="#262626" stroke-width="0.6"/>
<line x1="677.8" y1="431.77" x2="676.5" y2="431.77" stroke="#262626" stroke-width="0.6"/>
<line x1="455.5" y1="427.84" x2="456.8" y2="427.84" stroke="#262626" stroke-width="0.6"/>
<line x1="677.8" y1="427.84" x2="676.5" y2="427.84" stroke="#262626" stroke-width="0.6"/>
<line x1="455.5" y1="424.78" x2="456.8" y2="424.78" stroke="#262626" stroke-width="0.6"/>
<line x1="677.8" y1="424.78" x2="676.5" y2="424.78" stroke="#262626" stroke-width="0.6"/>
<line x1="455.5" y1="422.29" x2="456.8" y2="422.29" stroke="#262626" stroke-width="0.6"/>
<line x1="677.8" y1="422.29" x2="676.5" y2="422.29" stroke="#262626" stroke-width="0.6"/>
<line x1="455.5" y1="420.18" x2="456.8" y2="420.18" stroke="#262626" stroke-width="0.6"/>
<line x1="677.8" y1="420.18" x2="676.5" y2="420.18" stroke="#262626" stroke-width="0.6"/>
<line x1="455.5" y1="418.35" x2="456.8" y2="418.35" stroke="#262626" stroke-width="0.6"/>
<line x1="677.8" y1="418.35" x2="676.5" y2="418.35" stroke="#262626" stroke-width="0.6"/>
<line x1="455.5" y1="416.74" x2="456.8" y2="416.74" stroke="#262626" stroke-width="0.6"/>
<line x1="677.8" y1="416.74" x2="676.5" y2="416.74" stroke="#262626" stroke-width="0.6"/>
<line x1="455.5" y1="415.30" x2="458.0" y2="415.30" stroke="#262626" stroke-width="0.6"/>
<line x1="677.8" y1="415.30" x2="675.3" y2="415.30" stroke="#262626" stroke-width="0.6"/>
<line x1="455.5" y1="405.82" x2="456.8" y2="405.82" stroke="#262626" stroke-width="0.6"/>
<line x1="677.8" y1="405.82" x2="676.5" y2="405.82" stroke="#262626" stroke-width="0.6"/>
<line x1="455.5" y1="400.27" x2="456.8" y2="400.27" stroke="#262626" stroke-width="0.6"/>
<line x1="677.8" y1="400.27" x2="676.5" y2="400.27" stroke="#262626" stroke-width="0.6"/>
<line x1="455.5" y1="396.34" x2="456.8" y2="396.34" stroke="#262626" stroke-width="0.6"/>
<line x1="677.8" y1="396.34" x2="676.5" y2="396.34" stroke="#262626" stroke-width="0.6"/>
<line x1="455.5" y1="393.28" x2="456.8" y2="393.28" stroke="#262626" stroke-width="0.6"/>
<line x1="677.8" y1="393.28" x2="676.5" y2="393.28" stroke="#262626" stroke-width="0.6"/>
<line x1="455.5" y1="390.79" x2="456.8" y2="390.79" stroke="#262626" stroke-width="0.6"/>
<line x1="677.8" y1="390.79" x2="676.5" y2="390.79" stroke="#262626" stroke-width="0.6"/>
<line x1="455.5" y1="388.68" x2="456.8" y2="388.68" stroke="#262626" stroke-width="0.6"/>
<line x1="677.8" y1="388.68" x2="676.5" y2="388.68" stroke="#262626" stroke-width="0.6"/>
<line x1="455.5" y1="386.85" x2="456.8" y2="386.85" stroke="#262626" stroke-width="0.6"/>
<line x1="677.8" y1="386.85" x2="676.5" y2="386.85" stroke="#262626" stroke-width="0.6"/>
<line x1="455.5" y1="385.24" x2="456.8" y2="385.24" stroke="#262626" stroke-width="0.6"/>
<line x1="677.8" y1="385.24" x2="676.5" y2="385.24" stroke="#262626" stroke-width="0.6"/>
<line x1="455.5" y1="383.80" x2="458.0" y2="383.80" stroke="#262626" stroke-width="0.6"/>
<line x1="677.8" y1="383.80" x2="675.3" y2="383.80" stroke="#262626" stroke-width="0.6"/>
<line x1="455.5" y1="374.32" x2="456.8" y2="374.32" stroke="#262626" stroke-width="0.6"/>
<line x1="677.8" y1="374.32" x2="676.5" y2="374.32" stroke="#262626" stroke-width="0.6"/>
<line x1="455.5" y1="368.77" x2="456.8" y2="368.77" stroke="#262626" stroke-width="0.6"/>
<line x1="677.8" y1="368.77" x2="676.5" y2="368.77" stroke="#262626" stroke-width="0.6"/>
<line x1="455.5" y1="364.84" x2="456.8" y2="364.84" stroke="#262626" stroke-width="0.6"/>
<line x1="677.8" y1="364.84" x2="676.5" y2="364.84" stroke="#262626" stroke-width="0.6"/>
<line x1="455.5" y1="361.78" x2="456.8" y2="361.78" stroke="#262626" stroke-width="0.6"/>
<line x1="677.8" y1="361.78" x2="676.5" y2="361.78" stroke="#262626" stroke-width="0.6"/>
<line x1="455.5" y1="359.29" x2="456.8" y2="359.29" stroke="#262626" stroke-width="0.6"/>
<line x1="677.8" y1="359.29" x2="676.5" y2="359.29" stroke="#262626" stroke-width="0.6"/>
<line x1="455.5" y1="357.18" x2="456.8" y2="357.18" stroke="#262626" stroke-width="0.6"/>
<line x1="677.8" y1="357.18" x2="676.5" y2="357.18" stroke="#262626" stroke-width="0.6"/>
<line x1="455.5" y1="355.35" x2="456.8" y2="355.35" stroke="#262626" stroke-width="0.6"/>
<line x1="677.8" y1="355.35" x2="676.5" y2="355.35" stroke="#262626" stroke-width="0.6"/>
<line x1="455.5" y1="353.74" x2="456.8" y2="353.74" stroke="#262626" stroke-width="0.6"/>
<line x1="677.8" y1="353.74" x2="676.5" y2="353.74" stroke="#262626" stroke-width="0.6"/>
<text x="448.1" y="546.70" font-size="8.6" font-weight="bold" text-anchor="end" fill="#1a1a1a">10</text>
<text x="447.9" y="541.10" font-size="6.4" font-weight="bold" text-anchor="start" fill="#1a1a1a">-3</text>
<text x="448.1" y="515.20" font-size="8.6" font-weight="bold" text-anchor="end" fill="#1a1a1a">10</text>
<text x="447.9" y="509.60" font-size="6.4" font-weight="bold" text-anchor="start" fill="#1a1a1a">-2</text>
<text x="448.1" y="483.70" font-size="8.6" font-weight="bold" text-anchor="end" fill="#1a1a1a">10</text>
<text x="447.9" y="478.10" font-size="6.4" font-weight="bold" text-anchor="start" fill="#1a1a1a">-1</text>
<text x="448.1" y="452.20" font-size="8.6" font-weight="bold" text-anchor="end" fill="#1a1a1a">10</text>
<text x="447.9" y="446.60" font-size="6.4" font-weight="bold" text-anchor="start" fill="#1a1a1a">0</text>
<text x="448.1" y="420.70" font-size="8.6" font-weight="bold" text-anchor="end" fill="#1a1a1a">10</text>
<text x="447.9" y="415.10" font-size="6.4" font-weight="bold" text-anchor="start" fill="#1a1a1a">1</text>
<text x="448.1" y="389.20" font-size="8.6" font-weight="bold" text-anchor="end" fill="#1a1a1a">10</text>
<text x="447.9" y="383.60" font-size="6.4" font-weight="bold" text-anchor="start" fill="#1a1a1a">2</text>
<text x="448.1" y="357.70" font-size="8.6" font-weight="bold" text-anchor="end" fill="#1a1a1a">10</text>
<text x="447.9" y="352.10" font-size="6.4" font-weight="bold" text-anchor="start" fill="#1a1a1a">3</text>
<text transform="translate(459.70 553.30) rotate(-30)" font-size="9.4" font-weight="bold" text-anchor="end" fill="#1a1a1a">La</text>
<text transform="translate(476.80 553.30) rotate(-30)" font-size="9.4" font-weight="bold" text-anchor="end" fill="#1a1a1a">Ce</text>
<text transform="translate(493.90 553.30) rotate(-30)" font-size="9.4" font-weight="bold" text-anchor="end" fill="#1a1a1a">Pr</text>
<text transform="translate(511.00 553.30) rotate(-30)" font-size="9.4" font-weight="bold" text-anchor="end" fill="#1a1a1a">Nd</text>
<text transform="translate(528.10 553.30) rotate(-30)" font-size="9.4" font-weight="bold" text-anchor="end" fill="#1a1a1a">Sm</text>
<text transform="translate(545.20 553.30) rotate(-30)" font-size="9.4" font-weight="bold" text-anchor="end" fill="#1a1a1a">Eu</text>
<text transform="translate(562.30 553.30) rotate(-30)" font-size="9.4" font-weight="bold" text-anchor="end" fill="#1a1a1a">Gd</text>
<text transform="translate(579.40 553.30) rotate(-30)" font-size="9.4" font-weight="bold" text-anchor="end" fill="#1a1a1a">Tb</text>
<text transform="translate(596.50 553.30) rotate(-30)" font-size="9.4" font-weight="bold" text-anchor="end" fill="#1a1a1a">Dy</text>
<text transform="translate(613.60 553.30) rotate(-30)" font-size="9.4" font-weight="bold" text-anchor="end" fill="#1a1a1a">Ho</text>
<text transform="translate(630.70 553.30) rotate(-30)" font-size="9.4" font-weight="bold" text-anchor="end" fill="#1a1a1a">Er</text>
<text transform="translate(647.80 553.30) rotate(-30)" font-size="9.4" font-weight="bold" text-anchor="end" fill="#1a1a1a">Tm</text>
<text transform="translate(664.90 553.30) rotate(-30)" font-size="9.4" font-weight="bold" text-anchor="end" fill="#1a1a1a">Yb</text>
<text transform="translate(682.00 553.30) rotate(-30)" font-size="9.4" font-weight="bold" text-anchor="end" fill="#1a1a1a">Lu</text>
<text transform="translate(431.7 446.79999999999995) rotate(-90) scale(1,0.88)" font-size="10.3" font-weight="bold" text-anchor="middle" fill="#1a1a1a">Zircon/Chondrite</text>
<polyline points="455.5,504.3 472.6,494.8" fill="none" stroke="#111" stroke-width="1.2" stroke-linejoin="round"/>
<polyline points="523.9,465.8 541.0,445.5 558.1,429.7 575.2,414.0 592.3,405.2 609.4,403.0 626.5,408.0 643.6,411.7 660.7,413.4 677.8,414.4" fill="none" stroke="#111" stroke-width="1.2" stroke-linejoin="round"/>
<polyline points="455.5,509.8 472.6,500.3" fill="none" stroke="#111" stroke-width="1.2" stroke-linejoin="round"/>
<polyline points="523.9,468.8 541.0,446.8 558.1,431.8 575.2,418.4 592.3,409.3 609.4,405.8 626.5,403.6 643.6,402.2 660.7,397.0 677.8,393.6" fill="none" stroke="#111" stroke-width="1.2" stroke-linejoin="round"/>
<polyline points="523.9,472.8 541.0,454.7 558.1,441.3 575.2,427.5 592.3,420.6 609.4,420.6 626.5,419.8 643.6,421.6 660.7,420.6 677.8,420.6" fill="none" stroke="#111" stroke-width="1.2" stroke-linejoin="round"/>
<polyline points="541.0,460.4 558.1,444.3 575.2,429.7 592.3,419.4 609.4,411.8 626.5,405.8 643.6,402.8 660.7,399.4 677.8,395.7" fill="none" stroke="#b02a2a" stroke-width="1.2" stroke-linejoin="round"/>
<polyline points="541.0,466.9 558.1,453.8 575.2,441.3 592.3,430.9 609.4,424.0 626.5,420.6 643.6,418.4 660.7,415.3 677.8,410.7" fill="none" stroke="#b02a2a" stroke-width="1.2" stroke-linejoin="round"/>
<text x="459.50" y="369.80" font-size="13.3" text-anchor="start" fill="#1a1a1a" font-weight="normal" >h)</text>
<rect x="626.2" y="517.9" width="50.3" height="19.2" fill="#fff" stroke="#262626" stroke-width="0.8"/>
<line x1="629.2" y1="522.70" x2="643.7" y2="522.70" stroke="#b02a2a" stroke-width="1.5"/>
<text x="646.20" y="524.90" font-size="6.6" text-anchor="start" fill="#1a1a1a" font-weight="bold" >CM20-6</text>
<line x1="629.2" y1="532.30" x2="643.7" y2="532.30" stroke="#111" stroke-width="1.5"/>
<text x="646.20" y="534.50" font-size="6.6" text-anchor="start" fill="#1a1a1a" font-weight="bold" >CM20-12</text>
<rect x="453.4" y="698.4" width="223.10000000000002" height="189.39999999999998" fill="#fff" stroke="#262626" stroke-width="1.1"/>
<line x1="470.56" y1="887.8" x2="470.56" y2="885.3" stroke="#262626" stroke-width="0.8"/>
<line x1="470.56" y1="698.4" x2="470.56" y2="700.9" stroke="#262626" stroke-width="0.8"/>
<line x1="487.72" y1="887.8" x2="487.72" y2="885.3" stroke="#262626" stroke-width="0.8"/>
<line x1="487.72" y1="698.4" x2="487.72" y2="700.9" stroke="#262626" stroke-width="0.8"/>
<line x1="504.88" y1="887.8" x2="504.88" y2="885.3" stroke="#262626" stroke-width="0.8"/>
<line x1="504.88" y1="698.4" x2="504.88" y2="700.9" stroke="#262626" stroke-width="0.8"/>
<line x1="522.05" y1="887.8" x2="522.05" y2="885.3" stroke="#262626" stroke-width="0.8"/>
<line x1="522.05" y1="698.4" x2="522.05" y2="700.9" stroke="#262626" stroke-width="0.8"/>
<line x1="539.21" y1="887.8" x2="539.21" y2="885.3" stroke="#262626" stroke-width="0.8"/>
<line x1="539.21" y1="698.4" x2="539.21" y2="700.9" stroke="#262626" stroke-width="0.8"/>
<line x1="556.37" y1="887.8" x2="556.37" y2="885.3" stroke="#262626" stroke-width="0.8"/>
<line x1="556.37" y1="698.4" x2="556.37" y2="700.9" stroke="#262626" stroke-width="0.8"/>
<line x1="573.53" y1="887.8" x2="573.53" y2="885.3" stroke="#262626" stroke-width="0.8"/>
<line x1="573.53" y1="698.4" x2="573.53" y2="700.9" stroke="#262626" stroke-width="0.8"/>
<line x1="590.69" y1="887.8" x2="590.69" y2="885.3" stroke="#262626" stroke-width="0.8"/>
<line x1="590.69" y1="698.4" x2="590.69" y2="700.9" stroke="#262626" stroke-width="0.8"/>
<line x1="607.85" y1="887.8" x2="607.85" y2="885.3" stroke="#262626" stroke-width="0.8"/>
<line x1="607.85" y1="698.4" x2="607.85" y2="700.9" stroke="#262626" stroke-width="0.8"/>
<line x1="625.02" y1="887.8" x2="625.02" y2="885.3" stroke="#262626" stroke-width="0.8"/>
<line x1="625.02" y1="698.4" x2="625.02" y2="700.9" stroke="#262626" stroke-width="0.8"/>
<line x1="642.18" y1="887.8" x2="642.18" y2="885.3" stroke="#262626" stroke-width="0.8"/>
<line x1="642.18" y1="698.4" x2="642.18" y2="700.9" stroke="#262626" stroke-width="0.8"/>
<line x1="659.34" y1="887.8" x2="659.34" y2="885.3" stroke="#262626" stroke-width="0.8"/>
<line x1="659.34" y1="698.4" x2="659.34" y2="700.9" stroke="#262626" stroke-width="0.8"/>
<line x1="453.4" y1="887.80" x2="455.9" y2="887.80" stroke="#262626" stroke-width="0.6"/>
<line x1="676.5" y1="887.80" x2="674.0" y2="887.80" stroke="#262626" stroke-width="0.6"/>
<line x1="453.4" y1="878.30" x2="454.7" y2="878.30" stroke="#262626" stroke-width="0.6"/>
<line x1="676.5" y1="878.30" x2="675.2" y2="878.30" stroke="#262626" stroke-width="0.6"/>
<line x1="453.4" y1="872.74" x2="454.7" y2="872.74" stroke="#262626" stroke-width="0.6"/>
<line x1="676.5" y1="872.74" x2="675.2" y2="872.74" stroke="#262626" stroke-width="0.6"/>
<line x1="453.4" y1="868.79" x2="454.7" y2="868.79" stroke="#262626" stroke-width="0.6"/>
<line x1="676.5" y1="868.79" x2="675.2" y2="868.79" stroke="#262626" stroke-width="0.6"/>
<line x1="453.4" y1="865.74" x2="454.7" y2="865.74" stroke="#262626" stroke-width="0.6"/>
<line x1="676.5" y1="865.74" x2="675.2" y2="865.74" stroke="#262626" stroke-width="0.6"/>
<line x1="453.4" y1="863.24" x2="454.7" y2="863.24" stroke="#262626" stroke-width="0.6"/>
<line x1="676.5" y1="863.24" x2="675.2" y2="863.24" stroke="#262626" stroke-width="0.6"/>
<line x1="453.4" y1="861.12" x2="454.7" y2="861.12" stroke="#262626" stroke-width="0.6"/>
<line x1="676.5" y1="861.12" x2="675.2" y2="861.12" stroke="#262626" stroke-width="0.6"/>
<line x1="453.4" y1="859.29" x2="454.7" y2="859.29" stroke="#262626" stroke-width="0.6"/>
<line x1="676.5" y1="859.29" x2="675.2" y2="859.29" stroke="#262626" stroke-width="0.6"/>
<line x1="453.4" y1="857.68" x2="454.7" y2="857.68" stroke="#262626" stroke-width="0.6"/>
<line x1="676.5" y1="857.68" x2="675.2" y2="857.68" stroke="#262626" stroke-width="0.6"/>
<line x1="453.4" y1="856.23" x2="455.9" y2="856.23" stroke="#262626" stroke-width="0.6"/>
<line x1="676.5" y1="856.23" x2="674.0" y2="856.23" stroke="#262626" stroke-width="0.6"/>
<line x1="453.4" y1="846.73" x2="454.7" y2="846.73" stroke="#262626" stroke-width="0.6"/>
<line x1="676.5" y1="846.73" x2="675.2" y2="846.73" stroke="#262626" stroke-width="0.6"/>
<line x1="453.4" y1="841.17" x2="454.7" y2="841.17" stroke="#262626" stroke-width="0.6"/>
<line x1="676.5" y1="841.17" x2="675.2" y2="841.17" stroke="#262626" stroke-width="0.6"/>
<line x1="453.4" y1="837.23" x2="454.7" y2="837.23" stroke="#262626" stroke-width="0.6"/>
<line x1="676.5" y1="837.23" x2="675.2" y2="837.23" stroke="#262626" stroke-width="0.6"/>
<line x1="453.4" y1="834.17" x2="454.7" y2="834.17" stroke="#262626" stroke-width="0.6"/>
<line x1="676.5" y1="834.17" x2="675.2" y2="834.17" stroke="#262626" stroke-width="0.6"/>
<line x1="453.4" y1="831.67" x2="454.7" y2="831.67" stroke="#262626" stroke-width="0.6"/>
<line x1="676.5" y1="831.67" x2="675.2" y2="831.67" stroke="#262626" stroke-width="0.6"/>
<line x1="453.4" y1="829.56" x2="454.7" y2="829.56" stroke="#262626" stroke-width="0.6"/>
<line x1="676.5" y1="829.56" x2="675.2" y2="829.56" stroke="#262626" stroke-width="0.6"/>
<line x1="453.4" y1="827.73" x2="454.7" y2="827.73" stroke="#262626" stroke-width="0.6"/>
<line x1="676.5" y1="827.73" x2="675.2" y2="827.73" stroke="#262626" stroke-width="0.6"/>
<line x1="453.4" y1="826.11" x2="454.7" y2="826.11" stroke="#262626" stroke-width="0.6"/>
<line x1="676.5" y1="826.11" x2="675.2" y2="826.11" stroke="#262626" stroke-width="0.6"/>
<line x1="453.4" y1="824.67" x2="455.9" y2="824.67" stroke="#262626" stroke-width="0.6"/>
<line x1="676.5" y1="824.67" x2="674.0" y2="824.67" stroke="#262626" stroke-width="0.6"/>
<line x1="453.4" y1="815.16" x2="454.7" y2="815.16" stroke="#262626" stroke-width="0.6"/>
<line x1="676.5" y1="815.16" x2="675.2" y2="815.16" stroke="#262626" stroke-width="0.6"/>
<line x1="453.4" y1="809.61" x2="454.7" y2="809.61" stroke="#262626" stroke-width="0.6"/>
<line x1="676.5" y1="809.61" x2="675.2" y2="809.61" stroke="#262626" stroke-width="0.6"/>
<line x1="453.4" y1="805.66" x2="454.7" y2="805.66" stroke="#262626" stroke-width="0.6"/>
<line x1="676.5" y1="805.66" x2="675.2" y2="805.66" stroke="#262626" stroke-width="0.6"/>
<line x1="453.4" y1="802.60" x2="454.7" y2="802.60" stroke="#262626" stroke-width="0.6"/>
<line x1="676.5" y1="802.60" x2="675.2" y2="802.60" stroke="#262626" stroke-width="0.6"/>
<line x1="453.4" y1="800.10" x2="454.7" y2="800.10" stroke="#262626" stroke-width="0.6"/>
<line x1="676.5" y1="800.10" x2="675.2" y2="800.10" stroke="#262626" stroke-width="0.6"/>
<line x1="453.4" y1="797.99" x2="454.7" y2="797.99" stroke="#262626" stroke-width="0.6"/>
<line x1="676.5" y1="797.99" x2="675.2" y2="797.99" stroke="#262626" stroke-width="0.6"/>
<line x1="453.4" y1="796.16" x2="454.7" y2="796.16" stroke="#262626" stroke-width="0.6"/>
<line x1="676.5" y1="796.16" x2="675.2" y2="796.16" stroke="#262626" stroke-width="0.6"/>
<line x1="453.4" y1="794.54" x2="454.7" y2="794.54" stroke="#262626" stroke-width="0.6"/>
<line x1="676.5" y1="794.54" x2="675.2" y2="794.54" stroke="#262626" stroke-width="0.6"/>
<line x1="453.4" y1="793.10" x2="455.9" y2="793.10" stroke="#262626" stroke-width="0.6"/>
<line x1="676.5" y1="793.10" x2="674.0" y2="793.10" stroke="#262626" stroke-width="0.6"/>
<line x1="453.4" y1="783.60" x2="454.7" y2="783.60" stroke="#262626" stroke-width="0.6"/>
<line x1="676.5" y1="783.60" x2="675.2" y2="783.60" stroke="#262626" stroke-width="0.6"/>
<line x1="453.4" y1="778.04" x2="454.7" y2="778.04" stroke="#262626" stroke-width="0.6"/>
<line x1="676.5" y1="778.04" x2="675.2" y2="778.04" stroke="#262626" stroke-width="0.6"/>
<line x1="453.4" y1="774.09" x2="454.7" y2="774.09" stroke="#262626" stroke-width="0.6"/>
<line x1="676.5" y1="774.09" x2="675.2" y2="774.09" stroke="#262626" stroke-width="0.6"/>
<line x1="453.4" y1="771.04" x2="454.7" y2="771.04" stroke="#262626" stroke-width="0.6"/>
<line x1="676.5" y1="771.04" x2="675.2" y2="771.04" stroke="#262626" stroke-width="0.6"/>
<line x1="453.4" y1="768.54" x2="454.7" y2="768.54" stroke="#262626" stroke-width="0.6"/>
<line x1="676.5" y1="768.54" x2="675.2" y2="768.54" stroke="#262626" stroke-width="0.6"/>
<line x1="453.4" y1="766.42" x2="454.7" y2="766.42" stroke="#262626" stroke-width="0.6"/>
<line x1="676.5" y1="766.42" x2="675.2" y2="766.42" stroke="#262626" stroke-width="0.6"/>
<line x1="453.4" y1="764.59" x2="454.7" y2="764.59" stroke="#262626" stroke-width="0.6"/>
<line x1="676.5" y1="764.59" x2="675.2" y2="764.59" stroke="#262626" stroke-width="0.6"/>
<line x1="453.4" y1="762.98" x2="454.7" y2="762.98" stroke="#262626" stroke-width="0.6"/>
<line x1="676.5" y1="762.98" x2="675.2" y2="762.98" stroke="#262626" stroke-width="0.6"/>
<line x1="453.4" y1="761.53" x2="455.9" y2="761.53" stroke="#262626" stroke-width="0.6"/>
<line x1="676.5" y1="761.53" x2="674.0" y2="761.53" stroke="#262626" stroke-width="0.6"/>
<line x1="453.4" y1="752.03" x2="454.7" y2="752.03" stroke="#262626" stroke-width="0.6"/>
<line x1="676.5" y1="752.03" x2="675.2" y2="752.03" stroke="#262626" stroke-width="0.6"/>
<line x1="453.4" y1="746.47" x2="454.7" y2="746.47" stroke="#262626" stroke-width="0.6"/>
<line x1="676.5" y1="746.47" x2="675.2" y2="746.47" stroke="#262626" stroke-width="0.6"/>
<line x1="453.4" y1="742.53" x2="454.7" y2="742.53" stroke="#262626" stroke-width="0.6"/>
<line x1="676.5" y1="742.53" x2="675.2" y2="742.53" stroke="#262626" stroke-width="0.6"/>
<line x1="453.4" y1="739.47" x2="454.7" y2="739.47" stroke="#262626" stroke-width="0.6"/>
<line x1="676.5" y1="739.47" x2="675.2" y2="739.47" stroke="#262626" stroke-width="0.6"/>
<line x1="453.4" y1="736.97" x2="454.7" y2="736.97" stroke="#262626" stroke-width="0.6"/>
<line x1="676.5" y1="736.97" x2="675.2" y2="736.97" stroke="#262626" stroke-width="0.6"/>
<line x1="453.4" y1="734.86" x2="454.7" y2="734.86" stroke="#262626" stroke-width="0.6"/>
<line x1="676.5" y1="734.86" x2="675.2" y2="734.86" stroke="#262626" stroke-width="0.6"/>
<line x1="453.4" y1="733.03" x2="454.7" y2="733.03" stroke="#262626" stroke-width="0.6"/>
<line x1="676.5" y1="733.03" x2="675.2" y2="733.03" stroke="#262626" stroke-width="0.6"/>
<line x1="453.4" y1="731.41" x2="454.7" y2="731.41" stroke="#262626" stroke-width="0.6"/>
<line x1="676.5" y1="731.41" x2="675.2" y2="731.41" stroke="#262626" stroke-width="0.6"/>
<line x1="453.4" y1="729.97" x2="455.9" y2="729.97" stroke="#262626" stroke-width="0.6"/>
<line x1="676.5" y1="729.97" x2="674.0" y2="729.97" stroke="#262626" stroke-width="0.6"/>
<line x1="453.4" y1="720.46" x2="454.7" y2="720.46" stroke="#262626" stroke-width="0.6"/>
<line x1="676.5" y1="720.46" x2="675.2" y2="720.46" stroke="#262626" stroke-width="0.6"/>
<line x1="453.4" y1="714.91" x2="454.7" y2="714.91" stroke="#262626" stroke-width="0.6"/>
<line x1="676.5" y1="714.91" x2="675.2" y2="714.91" stroke="#262626" stroke-width="0.6"/>
<line x1="453.4" y1="710.96" x2="454.7" y2="710.96" stroke="#262626" stroke-width="0.6"/>
<line x1="676.5" y1="710.96" x2="675.2" y2="710.96" stroke="#262626" stroke-width="0.6"/>
<line x1="453.4" y1="707.90" x2="454.7" y2="707.90" stroke="#262626" stroke-width="0.6"/>
<line x1="676.5" y1="707.90" x2="675.2" y2="707.90" stroke="#262626" stroke-width="0.6"/>
<line x1="453.4" y1="705.40" x2="454.7" y2="705.40" stroke="#262626" stroke-width="0.6"/>
<line x1="676.5" y1="705.40" x2="675.2" y2="705.40" stroke="#262626" stroke-width="0.6"/>
<line x1="453.4" y1="703.29" x2="454.7" y2="703.29" stroke="#262626" stroke-width="0.6"/>
<line x1="676.5" y1="703.29" x2="675.2" y2="703.29" stroke="#262626" stroke-width="0.6"/>
<line x1="453.4" y1="701.46" x2="454.7" y2="701.46" stroke="#262626" stroke-width="0.6"/>
<line x1="676.5" y1="701.46" x2="675.2" y2="701.46" stroke="#262626" stroke-width="0.6"/>
<line x1="453.4" y1="699.84" x2="454.7" y2="699.84" stroke="#262626" stroke-width="0.6"/>
<line x1="676.5" y1="699.84" x2="675.2" y2="699.84" stroke="#262626" stroke-width="0.6"/>
<text x="446.0" y="893.20" font-size="8.6" font-weight="bold" text-anchor="end" fill="#1a1a1a">10</text>
<text x="445.79999999999995" y="887.60" font-size="6.4" font-weight="bold" text-anchor="start" fill="#1a1a1a">-3</text>
<text x="446.0" y="861.63" font-size="8.6" font-weight="bold" text-anchor="end" fill="#1a1a1a">10</text>
<text x="445.79999999999995" y="856.03" font-size="6.4" font-weight="bold" text-anchor="start" fill="#1a1a1a">-2</text>
<text x="446.0" y="830.07" font-size="8.6" font-weight="bold" text-anchor="end" fill="#1a1a1a">10</text>
<text x="445.79999999999995" y="824.47" font-size="6.4" font-weight="bold" text-anchor="start" fill="#1a1a1a">-1</text>
<text x="446.0" y="798.50" font-size="8.6" font-weight="bold" text-anchor="end" fill="#1a1a1a">10</text>
<text x="445.79999999999995" y="792.90" font-size="6.4" font-weight="bold" text-anchor="start" fill="#1a1a1a">0</text>
<text x="446.0" y="766.93" font-size="8.6" font-weight="bold" text-anchor="end" fill="#1a1a1a">10</text>
<text x="445.79999999999995" y="761.33" font-size="6.4" font-weight="bold" text-anchor="start" fill="#1a1a1a">1</text>
<text x="446.0" y="735.37" font-size="8.6" font-weight="bold" text-anchor="end" fill="#1a1a1a">10</text>
<text x="445.79999999999995" y="729.77" font-size="6.4" font-weight="bold" text-anchor="start" fill="#1a1a1a">2</text>
<text x="446.0" y="703.80" font-size="8.6" font-weight="bold" text-anchor="end" fill="#1a1a1a">10</text>
<text x="445.79999999999995" y="698.20" font-size="6.4" font-weight="bold" text-anchor="start" fill="#1a1a1a">3</text>
<text transform="translate(457.60 899.80) rotate(-30)" font-size="9.4" font-weight="bold" text-anchor="end" fill="#1a1a1a">Ce</text>
<text transform="translate(474.76 899.80) rotate(-30)" font-size="9.4" font-weight="bold" text-anchor="end" fill="#1a1a1a">Pr</text>
<text transform="translate(491.92 899.80) rotate(-30)" font-size="9.4" font-weight="bold" text-anchor="end" fill="#1a1a1a">Nd</text>
<text transform="translate(509.08 899.80) rotate(-30)" font-size="9.4" font-weight="bold" text-anchor="end" fill="#1a1a1a">Sm</text>
<text transform="translate(526.25 899.80) rotate(-30)" font-size="9.4" font-weight="bold" text-anchor="end" fill="#1a1a1a">Eu</text>
<text transform="translate(543.41 899.80) rotate(-30)" font-size="9.4" font-weight="bold" text-anchor="end" fill="#1a1a1a">Gd</text>
<text transform="translate(560.57 899.80) rotate(-30)" font-size="9.4" font-weight="bold" text-anchor="end" fill="#1a1a1a">Tb</text>
<text transform="translate(577.73 899.80) rotate(-30)" font-size="9.4" font-weight="bold" text-anchor="end" fill="#1a1a1a">Dy</text>
<text transform="translate(594.89 899.80) rotate(-30)" font-size="9.4" font-weight="bold" text-anchor="end" fill="#1a1a1a">Ho</text>
<text transform="translate(612.05 899.80) rotate(-30)" font-size="9.4" font-weight="bold" text-anchor="end" fill="#1a1a1a">Er</text>
<text transform="translate(629.22 899.80) rotate(-30)" font-size="9.4" font-weight="bold" text-anchor="end" fill="#1a1a1a">Tm</text>
<text transform="translate(646.38 899.80) rotate(-30)" font-size="9.4" font-weight="bold" text-anchor="end" fill="#1a1a1a">Yb</text>
<text transform="translate(663.54 899.80) rotate(-30)" font-size="9.4" font-weight="bold" text-anchor="end" fill="#1a1a1a">Lu</text>
<text transform="translate(680.70 899.80) rotate(-30)" font-size="9.4" font-weight="bold" text-anchor="end" fill="#1a1a1a">La</text>
<text transform="translate(429.59999999999997 793.0999999999999) rotate(-90) scale(1,0.88)" font-size="10.3" font-weight="bold" text-anchor="middle" fill="#1a1a1a">Zircon/Chondrite</text>
<polyline points="453.4,813.2 470.6,782.9 487.7,790.9 504.9,786.7 522.0,771.9 539.2,770.8 556.4,761.8 573.5,752.0 590.7,743.6 607.9,734.7 625.0,723.4 642.2,714.9 659.3,707.9 676.5,703.3" fill="none" stroke="#111" stroke-width="1.2" stroke-linejoin="round"/>
<polyline points="453.4,845.4 470.6,763.0 487.7,818.2 504.9,804.0 522.0,780.0 539.2,785.8 556.4,770.8 573.5,760.2 590.7,751.4 607.9,742.5 625.0,727.8 642.2,720.5 659.3,715.9 676.5,713.2" fill="none" stroke="#111" stroke-width="1.2" stroke-linejoin="round"/>
<polyline points="453.4,845.4 470.6,832.9 487.7,843.7 504.9,828.4 522.0,794.5 539.2,788.0 556.4,770.8 573.5,765.3 590.7,761.8 607.9,760.0 625.0,760.0 642.2,759.0 659.3,757.9 676.5,756.0" fill="none" stroke="#111" stroke-width="1.2" stroke-linejoin="round"/>
<polyline points="470.6,818.2 487.7,843.7 504.9,834.2 522.0,798.4 539.2,796.9 556.4,781.1 573.5,775.9 590.7,767.2 607.9,760.9 625.0,759.0 642.2,756.9 659.3,755.1 676.5,753.5" fill="none" stroke="#111" stroke-width="1.2" stroke-linejoin="round"/>
<polyline points="504.9,837.2 522.0,802.3 539.2,802.3 556.4,782.3 573.5,775.9 590.7,767.2 607.9,763.0 625.0,759.0 642.2,752.0 659.3,742.5 676.5,735.7" fill="none" stroke="#111" stroke-width="1.2" stroke-linejoin="round"/>
<polyline points="504.9,834.2 522.0,805.7 539.2,804.0 556.4,785.0 573.5,774.1 590.7,764.6 607.9,756.0 625.0,747.4 642.2,739.5 659.3,733.0 676.5,726.9" fill="none" stroke="#111" stroke-width="1.2" stroke-linejoin="round"/>
<polyline points="522.0,821.1 539.2,814.5 556.4,793.4 573.5,779.0 590.7,768.8 607.9,763.4 625.0,761.5 642.2,760.2 659.3,759.0 676.5,750.1" fill="none" stroke="#111" stroke-width="1.2" stroke-linejoin="round"/>
<polyline points="522.0,805.7 539.2,809.6 556.4,787.5 573.5,775.9 590.7,766.4 607.9,760.2 625.0,757.9 642.2,756.9 659.3,755.1 676.5,753.5" fill="none" stroke="#111" stroke-width="1.2" stroke-linejoin="round"/>
<polyline points="453.4,851.6 470.6,766.4 487.7,815.2 504.9,800.1 522.0,770.5 539.2,793.4 556.4,746.9 573.5,737.2 590.7,727.8 607.9,720.5 625.0,712.6 642.2,707.9 659.3,703.3 676.5,699.8" fill="none" stroke="#2a86c8" stroke-width="1.2" stroke-linejoin="round"/>
<polyline points="453.4,864.2 470.6,831.7 487.7,845.4 504.9,835.6 522.0,810.6 539.2,806.4 556.4,789.0 573.5,777.6 590.7,769.7 607.9,761.8 625.0,751.4 642.2,739.5 659.3,728.7 676.5,715.4" fill="none" stroke="#2a86c8" stroke-width="1.2" stroke-linejoin="round"/>
<polyline points="453.4,856.2 470.6,813.2 487.7,845.4" fill="none" stroke="#2a86c8" stroke-width="1.2" stroke-linejoin="round"/>
<polyline points="504.9,843.7 522.0,793.4 539.2,790.6 556.4,770.8 573.5,765.3 590.7,760.0 607.9,757.4 625.0,750.7 642.2,742.5 659.3,734.9 676.5,730.0" fill="none" stroke="#2a86c8" stroke-width="1.2" stroke-linejoin="round"/>
<polyline points="504.9,831.7 522.0,812.7 539.2,809.2 556.4,789.9 573.5,778.0 590.7,768.5 607.9,761.5 625.0,757.9 642.2,753.5 659.3,749.0 676.5,744.4" fill="none" stroke="#2a86c8" stroke-width="1.2" stroke-linejoin="round"/>
<text x="457.40" y="715.90" font-size="13.3" text-anchor="start" fill="#1a1a1a" font-weight="normal" >k)</text>
<rect x="637.7" y="864.3" width="34.4" height="18.9" fill="#fff" stroke="#262626" stroke-width="0.8"/>
<line x1="640.7" y1="869.02" x2="655.2" y2="869.02" stroke="#2a86c8" stroke-width="1.5"/>
<text x="657.70" y="871.23" font-size="6.4" text-anchor="start" fill="#1a1a1a" font-weight="bold" >core</text>
<line x1="640.7" y1="878.47" x2="655.2" y2="878.47" stroke="#111" stroke-width="1.5"/>
<text x="657.70" y="880.67" font-size="6.4" text-anchor="start" fill="#1a1a1a" font-weight="bold" >rim</text>
</svg>
</body></html>
